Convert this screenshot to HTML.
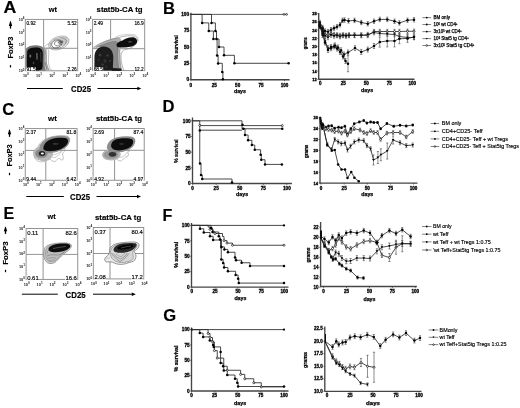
<!DOCTYPE html>
<html><head><meta charset="utf-8"><style>
html,body{margin:0;padding:0;background:#fff;width:520px;height:408px;overflow:hidden}
svg{display:block;will-change:transform}
text{font-family:"Liberation Sans", sans-serif}
</style></head><body>
<svg width="520" height="408" viewBox="0 0 520 408">
<rect width="520" height="408" fill="#fff"/>
<filter id="gb" x="0" y="0" width="100%" height="100%"><feGaussianBlur stdDeviation="0.3"/></filter>
<g filter="url(#gb)">
<g transform="translate(3.6,0) scale(1.07,1) translate(-3.6,0)">
<text x="3.6" y="12.6" font-size="16.6" stroke="#000" stroke-width="0.16" font-weight="bold" >A</text>
</g>
<g transform="translate(163,0) scale(1.0,1) translate(-163,0)">
<text x="163" y="13.8" font-size="16.6" stroke="#000" stroke-width="0.16" font-weight="bold" >B</text>
</g>
<g transform="translate(2.3,0) scale(1.0,1) translate(-2.3,0)">
<text x="2.3" y="115.2" font-size="16.6" stroke="#000" stroke-width="0.16" font-weight="bold" >C</text>
</g>
<g transform="translate(162.6,0) scale(1.0,1) translate(-162.6,0)">
<text x="162.6" y="111.8" font-size="16.6" stroke="#000" stroke-width="0.16" font-weight="bold" >D</text>
</g>
<g transform="translate(3.6,0) scale(0.97,1) translate(-3.6,0)">
<text x="3.6" y="218.6" font-size="16.6" stroke="#000" stroke-width="0.16" font-weight="bold" >E</text>
</g>
<g transform="translate(162.6,0) scale(0.97,1) translate(-162.6,0)">
<text x="162.6" y="220.6" font-size="16.6" stroke="#000" stroke-width="0.16" font-weight="bold" >F</text>
</g>
<g transform="translate(163.2,0) scale(1.0,1) translate(-163.2,0)">
<text x="163.2" y="320.8" font-size="16.6" stroke="#000" stroke-width="0.16" font-weight="bold" >G</text>
</g>
<defs><filter id="bl" x="-20%" y="-20%" width="140%" height="140%"><feGaussianBlur stdDeviation="0.7"/></filter><filter id="bl2" x="-20%" y="-20%" width="140%" height="140%"><feGaussianBlur stdDeviation="0.4"/></filter></defs>
<rect x="25.3" y="19.4" width="52.400000000000006" height="51.4" fill="none" stroke="#888" stroke-width="0.9"/>
<line x1="43.6" y1="19.4" x2="43.6" y2="70.8" stroke="#888" stroke-width="0.9" />
<line x1="25.3" y1="48.3" x2="77.7" y2="48.3" stroke="#888" stroke-width="0.9" />
<text x="24.5" y="72.1" font-size="3.7" font-weight="bold" fill="#222" text-anchor="end">10<tspan font-size="2.96" dy="-1.5">0</tspan></text>
<text x="25.900000000000002" y="76.8" font-size="3.7" font-weight="bold" fill="#222" text-anchor="middle">10<tspan font-size="2.96" dy="-1.5">0</tspan></text>
<text x="24.5" y="59.24999999999999" font-size="3.7" font-weight="bold" fill="#222" text-anchor="end">10<tspan font-size="2.96" dy="-1.5">1</tspan></text>
<text x="39.00000000000001" y="76.8" font-size="3.7" font-weight="bold" fill="#222" text-anchor="middle">10<tspan font-size="2.96" dy="-1.5">1</tspan></text>
<text x="24.5" y="46.39999999999999" font-size="3.7" font-weight="bold" fill="#222" text-anchor="end">10<tspan font-size="2.96" dy="-1.5">2</tspan></text>
<text x="52.1" y="76.8" font-size="3.7" font-weight="bold" fill="#222" text-anchor="middle">10<tspan font-size="2.96" dy="-1.5">2</tspan></text>
<text x="24.5" y="33.55" font-size="3.7" font-weight="bold" fill="#222" text-anchor="end">10<tspan font-size="2.96" dy="-1.5">3</tspan></text>
<text x="65.2" y="76.8" font-size="3.7" font-weight="bold" fill="#222" text-anchor="middle">10<tspan font-size="2.96" dy="-1.5">3</tspan></text>
<text x="24.5" y="20.7" font-size="3.7" font-weight="bold" fill="#222" text-anchor="end">10<tspan font-size="2.96" dy="-1.5">4</tspan></text>
<text x="78.3" y="76.8" font-size="3.7" font-weight="bold" fill="#222" text-anchor="middle">10<tspan font-size="2.96" dy="-1.5">4</tspan></text>
<rect x="92.6" y="19.4" width="52.099999999999994" height="51.199999999999996" fill="none" stroke="#888" stroke-width="0.9"/>
<line x1="110.6" y1="19.4" x2="110.6" y2="70.6" stroke="#888" stroke-width="0.9" />
<line x1="92.6" y1="48.7" x2="144.7" y2="48.7" stroke="#888" stroke-width="0.9" />
<text x="91.5" y="71.89999999999999" font-size="3.7" font-weight="bold" fill="#222" text-anchor="end">10<tspan font-size="2.96" dy="-1.5">0</tspan></text>
<text x="93.19999999999999" y="76.8" font-size="3.7" font-weight="bold" fill="#222" text-anchor="middle">10<tspan font-size="2.96" dy="-1.5">0</tspan></text>
<text x="91.5" y="59.099999999999994" font-size="3.7" font-weight="bold" fill="#222" text-anchor="end">10<tspan font-size="2.96" dy="-1.5">1</tspan></text>
<text x="106.225" y="76.8" font-size="3.7" font-weight="bold" fill="#222" text-anchor="middle">10<tspan font-size="2.96" dy="-1.5">1</tspan></text>
<text x="91.5" y="46.3" font-size="3.7" font-weight="bold" fill="#222" text-anchor="end">10<tspan font-size="2.96" dy="-1.5">2</tspan></text>
<text x="119.24999999999999" y="76.8" font-size="3.7" font-weight="bold" fill="#222" text-anchor="middle">10<tspan font-size="2.96" dy="-1.5">2</tspan></text>
<text x="91.5" y="33.49999999999999" font-size="3.7" font-weight="bold" fill="#222" text-anchor="end">10<tspan font-size="2.96" dy="-1.5">3</tspan></text>
<text x="132.27499999999998" y="76.8" font-size="3.7" font-weight="bold" fill="#222" text-anchor="middle">10<tspan font-size="2.96" dy="-1.5">3</tspan></text>
<text x="91.5" y="20.7" font-size="3.7" font-weight="bold" fill="#222" text-anchor="end">10<tspan font-size="2.96" dy="-1.5">4</tspan></text>
<text x="145.29999999999998" y="76.8" font-size="3.7" font-weight="bold" fill="#222" text-anchor="middle">10<tspan font-size="2.96" dy="-1.5">4</tspan></text>
<rect x="25.25" y="128.6" width="51.849999999999994" height="51.650000000000006" fill="none" stroke="#888" stroke-width="0.9"/>
<line x1="45.8" y1="128.6" x2="45.8" y2="180.25" stroke="#888" stroke-width="0.9" />
<line x1="25.25" y1="150.4" x2="77.1" y2="150.4" stroke="#888" stroke-width="0.9" />
<text x="24.3" y="181.55" font-size="3.7" font-weight="bold" fill="#222" text-anchor="end">10<tspan font-size="2.96" dy="-1.5">0</tspan></text>
<text x="25.85" y="185.5" font-size="3.7" font-weight="bold" fill="#222" text-anchor="middle">10<tspan font-size="2.96" dy="-1.5">0</tspan></text>
<text x="24.3" y="168.63750000000002" font-size="3.7" font-weight="bold" fill="#222" text-anchor="end">10<tspan font-size="2.96" dy="-1.5">1</tspan></text>
<text x="38.8125" y="185.5" font-size="3.7" font-weight="bold" fill="#222" text-anchor="middle">10<tspan font-size="2.96" dy="-1.5">1</tspan></text>
<text x="24.3" y="155.72500000000002" font-size="3.7" font-weight="bold" fill="#222" text-anchor="end">10<tspan font-size="2.96" dy="-1.5">2</tspan></text>
<text x="51.775" y="185.5" font-size="3.7" font-weight="bold" fill="#222" text-anchor="middle">10<tspan font-size="2.96" dy="-1.5">2</tspan></text>
<text x="24.3" y="142.8125" font-size="3.7" font-weight="bold" fill="#222" text-anchor="end">10<tspan font-size="2.96" dy="-1.5">3</tspan></text>
<text x="64.73749999999998" y="185.5" font-size="3.7" font-weight="bold" fill="#222" text-anchor="middle">10<tspan font-size="2.96" dy="-1.5">3</tspan></text>
<text x="24.3" y="129.9" font-size="3.7" font-weight="bold" fill="#222" text-anchor="end">10<tspan font-size="2.96" dy="-1.5">4</tspan></text>
<text x="77.69999999999999" y="185.5" font-size="3.7" font-weight="bold" fill="#222" text-anchor="middle">10<tspan font-size="2.96" dy="-1.5">4</tspan></text>
<rect x="93.1" y="128.5" width="51.099999999999994" height="51.75" fill="none" stroke="#888" stroke-width="0.9"/>
<line x1="114.6" y1="128.5" x2="114.6" y2="180.25" stroke="#888" stroke-width="0.9" />
<line x1="93.1" y1="150.3" x2="144.2" y2="150.3" stroke="#888" stroke-width="0.9" />
<text x="92.0" y="181.55" font-size="3.7" font-weight="bold" fill="#222" text-anchor="end">10<tspan font-size="2.96" dy="-1.5">0</tspan></text>
<text x="93.69999999999999" y="185.5" font-size="3.7" font-weight="bold" fill="#222" text-anchor="middle">10<tspan font-size="2.96" dy="-1.5">0</tspan></text>
<text x="92.0" y="168.6125" font-size="3.7" font-weight="bold" fill="#222" text-anchor="end">10<tspan font-size="2.96" dy="-1.5">1</tspan></text>
<text x="106.475" y="185.5" font-size="3.7" font-weight="bold" fill="#222" text-anchor="middle">10<tspan font-size="2.96" dy="-1.5">1</tspan></text>
<text x="92.0" y="155.675" font-size="3.7" font-weight="bold" fill="#222" text-anchor="end">10<tspan font-size="2.96" dy="-1.5">2</tspan></text>
<text x="119.24999999999999" y="185.5" font-size="3.7" font-weight="bold" fill="#222" text-anchor="middle">10<tspan font-size="2.96" dy="-1.5">2</tspan></text>
<text x="92.0" y="142.7375" font-size="3.7" font-weight="bold" fill="#222" text-anchor="end">10<tspan font-size="2.96" dy="-1.5">3</tspan></text>
<text x="132.02499999999998" y="185.5" font-size="3.7" font-weight="bold" fill="#222" text-anchor="middle">10<tspan font-size="2.96" dy="-1.5">3</tspan></text>
<text x="92.0" y="129.8" font-size="3.7" font-weight="bold" fill="#222" text-anchor="end">10<tspan font-size="2.96" dy="-1.5">4</tspan></text>
<text x="144.79999999999998" y="185.5" font-size="3.7" font-weight="bold" fill="#222" text-anchor="middle">10<tspan font-size="2.96" dy="-1.5">4</tspan></text>
<rect x="26.1" y="228.5" width="51.65" height="50.89999999999998" fill="none" stroke="#888" stroke-width="0.9"/>
<line x1="43.1" y1="228.5" x2="43.1" y2="279.4" stroke="#888" stroke-width="0.9" />
<line x1="26.1" y1="254.4" x2="77.75" y2="254.4" stroke="#888" stroke-width="0.9" />
<text x="25.0" y="280.7" font-size="3.9" font-weight="bold" fill="#222" text-anchor="end">10<tspan font-size="3.12" dy="-1.5">0</tspan></text>
<text x="26.700000000000003" y="285.8" font-size="3.9" font-weight="bold" fill="#222" text-anchor="middle">10<tspan font-size="3.12" dy="-1.5">0</tspan></text>
<text x="25.0" y="267.97499999999997" font-size="3.9" font-weight="bold" fill="#222" text-anchor="end">10<tspan font-size="3.12" dy="-1.5">1</tspan></text>
<text x="39.612500000000004" y="285.8" font-size="3.9" font-weight="bold" fill="#222" text-anchor="middle">10<tspan font-size="3.12" dy="-1.5">1</tspan></text>
<text x="25.0" y="255.25" font-size="3.9" font-weight="bold" fill="#222" text-anchor="end">10<tspan font-size="3.12" dy="-1.5">2</tspan></text>
<text x="52.525" y="285.8" font-size="3.9" font-weight="bold" fill="#222" text-anchor="middle">10<tspan font-size="3.12" dy="-1.5">2</tspan></text>
<text x="25.0" y="242.525" font-size="3.9" font-weight="bold" fill="#222" text-anchor="end">10<tspan font-size="3.12" dy="-1.5">3</tspan></text>
<text x="65.4375" y="285.8" font-size="3.9" font-weight="bold" fill="#222" text-anchor="middle">10<tspan font-size="3.12" dy="-1.5">3</tspan></text>
<text x="25.0" y="229.8" font-size="3.9" font-weight="bold" fill="#222" text-anchor="end">10<tspan font-size="3.12" dy="-1.5">4</tspan></text>
<text x="78.35" y="285.8" font-size="3.9" font-weight="bold" fill="#222" text-anchor="middle">10<tspan font-size="3.12" dy="-1.5">4</tspan></text>
<rect x="93.3" y="227.5" width="50.45" height="51.39999999999998" fill="none" stroke="#888" stroke-width="0.9"/>
<line x1="110" y1="227.5" x2="110" y2="278.9" stroke="#888" stroke-width="0.9" />
<line x1="93.3" y1="253.5" x2="143.75" y2="253.5" stroke="#888" stroke-width="0.9" />
<text x="92.2" y="280.2" font-size="3.9" font-weight="bold" fill="#222" text-anchor="end">10<tspan font-size="3.12" dy="-1.5">0</tspan></text>
<text x="93.89999999999999" y="285.3" font-size="3.9" font-weight="bold" fill="#222" text-anchor="middle">10<tspan font-size="3.12" dy="-1.5">0</tspan></text>
<text x="92.2" y="267.34999999999997" font-size="3.9" font-weight="bold" fill="#222" text-anchor="end">10<tspan font-size="3.12" dy="-1.5">1</tspan></text>
<text x="106.51249999999999" y="285.3" font-size="3.9" font-weight="bold" fill="#222" text-anchor="middle">10<tspan font-size="3.12" dy="-1.5">1</tspan></text>
<text x="92.2" y="254.5" font-size="3.9" font-weight="bold" fill="#222" text-anchor="end">10<tspan font-size="3.12" dy="-1.5">2</tspan></text>
<text x="119.125" y="285.3" font-size="3.9" font-weight="bold" fill="#222" text-anchor="middle">10<tspan font-size="3.12" dy="-1.5">2</tspan></text>
<text x="92.2" y="241.65" font-size="3.9" font-weight="bold" fill="#222" text-anchor="end">10<tspan font-size="3.12" dy="-1.5">3</tspan></text>
<text x="131.73749999999998" y="285.3" font-size="3.9" font-weight="bold" fill="#222" text-anchor="middle">10<tspan font-size="3.12" dy="-1.5">3</tspan></text>
<text x="92.2" y="228.8" font-size="3.9" font-weight="bold" fill="#222" text-anchor="end">10<tspan font-size="3.12" dy="-1.5">4</tspan></text>
<text x="144.35" y="285.3" font-size="3.9" font-weight="bold" fill="#222" text-anchor="middle">10<tspan font-size="3.12" dy="-1.5">4</tspan></text>
<path d="M41,47 C44,46.5 46.5,47.5 47,50 C47.5,54 46.5,59 47,63 C47.5,66.5 49,69 50.5,70.6 L41,70.6 Z" fill="#c8c8c8" filter="url(#bl2)"/>
<path d="M43.8,47.5 C45.5,49 46,53 46,58 C46,63 47,67 49,70.6" stroke="#666" stroke-width="0.55" fill="none" />
<path d="M44.5,48.2 C47.5,47.8 48.8,49 48.8,52 C48.8,55 47.8,60 48.8,65 C49.3,68 50.8,70 52.5,70.6" stroke="#888" stroke-width="0.5" fill="none" />
<path d="M45,62 L47,70.5" stroke="#555" stroke-width="0.6" fill="none" />
<g filter="url(#bl)">
<path d="M26,49 C28,45.8 33,45 38,45.4 C42,45.8 44.5,47.5 44.6,52 L44.6,64 C44.6,68 45.2,70 46,70.7 L25.6,70.7 Z" fill="#777"/>
<path d="M27.3,51 C28.6,47.8 33,47.2 37.5,47.6 C41,48 42.8,50 42.8,54 L42.6,66 C42.6,69 41.5,70.3 38,70.4 L27.4,70.4 C26.8,67 26.8,58 27.3,51 Z" fill="#0c0c0c"/>
</g>
<path d="M36.9,53 L37.1,59.5" stroke="#888" stroke-width="1.0" filter="url(#bl2)"/>
<path d="M40.5,52 L41,62" stroke="#333" stroke-width="1.2" filter="url(#bl2)"/>
<ellipse cx="30.3" cy="56" rx="0.9" ry="1.6" fill="#777" filter="url(#bl2)"/>
<ellipse cx="33.5" cy="63" rx="0.8" ry="1.2" fill="#444" filter="url(#bl2)"/>
<ellipse cx="63" cy="41.3" rx="5.5" ry="4.2" transform="rotate(-20 63 41.3)" fill="#c8c8c8" filter="url(#bl)"/>
<ellipse cx="58.8" cy="43.0" rx="10.6" ry="6.3" transform="rotate(-20 58.8 43.0)" fill="none" stroke="#888" stroke-width="0.6"/>
<ellipse cx="58.2" cy="43.2" rx="8.4" ry="5.0" transform="rotate(-20 58.2 43.2)" fill="none" stroke="#777" stroke-width="0.6"/>
<ellipse cx="56.8" cy="43.8" rx="5.4" ry="3.9" transform="rotate(-20 56.8 43.8)" fill="none" stroke="#555" stroke-width="0.7"/>
<ellipse cx="57.8" cy="43.2" rx="3.4" ry="2.6" transform="rotate(-20 57.8 43.2)" fill="none" stroke="#555" stroke-width="0.6"/>
<ellipse cx="59.6" cy="42.4" rx="0.9" ry="0.9" transform="rotate(0 59.6 42.4)" fill="none" stroke="#333" stroke-width="0.6"/>
<ellipse cx="62.0" cy="41.7" rx="0.9" ry="0.9" transform="rotate(0 62.0 41.7)" fill="none" stroke="#333" stroke-width="0.6"/>
<path d="M44,48 C45,45 47.5,43.5 50,44" stroke="#999" stroke-width="0.5" fill="none" />
<path d="M45,49 C47,47.5 49.5,46.8 51,47.5" stroke="#999" stroke-width="0.45" fill="none" />
<path d="M93.5,47.8 C99,43.5 106,40.5 113,38.3 C118,36.8 121,37.5 121.5,41 C121.8,44.5 120.5,48.5 120.2,52 C120,58 120.8,65 122,70.6 L109,70.6 L109,50 C106,46.5 101,46.5 93.5,47.8 Z" fill="#b0b0b0" filter="url(#bl2)"/>
<path d="M96,47.5 C101,44.8 107,42.8 112.5,41.5 C116,40.8 118.5,41.5 118.6,44 C118.7,47 118.2,50 118,54 C117.9,60 118.5,66 119.5,70.6 L109.5,70.6 L109.5,50 C107,47 102,46.5 96,47.5 Z" fill="#8a8a8a" filter="url(#bl2)"/>
<path d="M93.2,47.5 C99,43.5 105,41 111,39.5 C115,38.5 117,38 119,37.5 C124,35.8 131,35.3 134.5,36.2 C137.5,37.3 138,40 136.5,43 C135,46 131,48.3 126,49.3 C122,50.3 120.8,53.5 121,58 C121.3,63 122.5,67.5 124,70.6" stroke="#777" stroke-width="0.55" fill="none" />
<path d="M95,48.5 C100,45.5 106,43.5 111,42 C114.5,41 117,41.5 117.5,43.5 C118,46 117.5,49 117.2,53 C117,59 117.8,65 119,70.6" stroke="#777" stroke-width="0.5" fill="none" />
<path d="M113,43.6 C115.5,43 116.6,44 116.2,46.5 M118.2,50.5 C119.5,50 120,52 119.8,56 C119.7,61 120.5,66 121.8,70.6" stroke="#888" stroke-width="0.5" fill="none" />
<path d="M115.5,36.8 C122,34.2 130,33.8 134.5,34.8 C137.5,35.8 139,38.5 138,41.5" stroke="#999" stroke-width="0.45" fill="none" />
<g filter="url(#bl)">
<path d="M94.5,56 C95,50 98.5,46.6 103.5,46.4 C109,46.3 112.8,50 113.2,56 C113.6,61 112.5,65 113,68 L121,68.5 L122,70.6 L94.3,70.6 Z" fill="#1a1a1a"/>
<path d="M116.5,44.5 C117,42.5 119.5,41.5 122.5,40.5 C125,38.5 129,37 133,37.2 C136.5,37.6 137.8,40 136.8,42.8 C135.5,45.5 131.5,47 127,47.2 C123.5,47.4 120.5,47.6 118.5,47.3 C117,47 116.3,46 116.5,44.5 Z" fill="#111"/>
</g>
<circle cx="100" cy="55" r="1.5" fill="#3a3a3a" filter="url(#bl2)"/>
<circle cx="105" cy="61" r="1.7" fill="#333" filter="url(#bl2)"/>
<circle cx="102.5" cy="64.5" r="1.3" fill="#3a3a3a" filter="url(#bl2)"/>
<circle cx="107.5" cy="55.5" r="1.3" fill="#3a3a3a" filter="url(#bl2)"/>
<circle cx="98.5" cy="60" r="1.0" fill="#333" filter="url(#bl2)"/>
<circle cx="106" cy="67" r="1.0" fill="#333" filter="url(#bl2)"/>
<circle cx="110" cy="61" r="1.1" fill="#3a3a3a" filter="url(#bl2)"/>
<ellipse cx="130" cy="41.8" rx="2.2" ry="0.9" fill="#444" filter="url(#bl2)"/>
<path d="M93.4,53 L93.4,70.5" stroke="#555" stroke-width="1.6" filter="url(#bl2)"/>
<path d="M112,70.3 L121,70.3" stroke="#222" stroke-width="1.3"/>
<path d="M38.5,146 C40,142.5 43,140 47,138.3 C52,136 60,135.3 66,135.8 C70,136.6 70.5,139.5 69,142.5 C67.5,145.5 65,148 63.5,149.5" stroke="#888" stroke-width="0.5" fill="none" />
<path d="M36.8,149 C37.5,146 40,144 43,143.5" stroke="#888" stroke-width="0.5" fill="none" />
<path d="M33.5,153 C33.5,149 37,148 41,148 C45,148 48,150 48,153.5 C48,157.5 44,159.5 40,159.5 C36,159.5 33.5,157 33.5,153 Z" stroke="#777" stroke-width="0.5" fill="none" />
<path d="M34.2,155 C34.5,160 38,162 42,161.8 C45,161.5 47,160 48.5,158.3" stroke="#888" stroke-width="0.5" fill="none" />
<path d="M48.5,158.5 C50.5,159.5 52,161 54,161.5 C56,162 57,159 58.5,158.5 C60,158 61,160.5 62.5,160 C64,159 63,156 62.5,155 C62,153 64.5,152 65,150 C65.5,148.5 64,147.5 63,148.5" stroke="#888" stroke-width="0.5" fill="none" />
<path d="M50,156 C52,157.5 54.5,158 56,157 C57.5,156 59,154.5 60.5,153 C62,151.5 62.5,150 61.5,149.5" stroke="#999" stroke-width="0.5" fill="none" />
<path d="M47,153 C49,155 52,155.5 55,154.5 C58,153.5 60,152 61.5,151" stroke="#999" stroke-width="0.5" fill="none" />
<g filter="url(#bl)">
<path d="M34,153 C34,148.5 38,146 44,145 C48,144.5 52,147 53,150 C54,154 52,158 49,160 C46,161.5 43,161.5 40,160.5 C36,159.3 34,156.5 34,153 Z" fill="#b8b8b8"/>
<ellipse cx="41.5" cy="153.5" rx="6.2" ry="4.6" fill="#8a8a8a"/>
<path d="M39.5,148.5 C39.5,143.5 43.5,140 49,137.8 C55.5,135.6 63,135.4 67.5,136.6 C70.6,138 70.2,141.8 68,145 C65,148.8 59.5,151.6 53.5,152.6 C47.5,153.4 40.5,153 39.5,148.5 Z" fill="#8c8c8c"/>
<path d="M43.4,149 C43,145 46,141.2 51,139.3 C56,137.6 63,137.4 66.5,138.4 C68.8,139.5 68.4,142.4 66.5,145 C64,148 59,150.4 53,151.1 C48,151.5 44,151 43.4,149 Z" fill="#0e0e0e"/>
<ellipse cx="42" cy="153.6" rx="3.3" ry="2.5" fill="#222"/>
</g>
<ellipse cx="42.4" cy="153.5" rx="1.5" ry="0.9" fill="#f4f4f4" filter="url(#bl2)"/>
<ellipse cx="55.5" cy="143.8" rx="3" ry="0.9" fill="#3a3a3a" filter="url(#bl2)"/>
<path d="M107,148 C107.5,143.5 110,140.5 114,138.8 C119,137 126,136.3 131,136.8 C135,137.6 135.5,140.5 134,143.5 C132.5,146.5 130,149 128,151" stroke="#888" stroke-width="0.5" fill="none" />
<path d="M102.5,155 C102.5,151.5 106,150.3 110.5,150.3 C115,150.3 119,151.5 119.3,154.5 C119.5,157.5 115,159.3 110.5,159.3 C106,159.3 102.5,158 102.5,155 Z" stroke="#777" stroke-width="0.5" fill="none" />
<path d="M104.5,154.8 C104.7,152.6 107.5,152 110.7,152 C114,152 117,152.8 117,154.6 C117,156.5 114,157.4 110.7,157.4 C107.5,157.4 104.5,156.8 104.5,154.8 Z" stroke="#888" stroke-width="0.5" fill="none" />
<path d="M117,159.5 C119,161 121,161.5 122.5,160 C124,158.5 125,157 127,156.5 C129,156 128.5,154 128,153 C127.5,152 129,151 130,151" stroke="#888" stroke-width="0.5" fill="none" />
<path d="M119,157 C121,157.8 123,157 124.5,155.5 C126,154 127,152.5 127.5,151.5" stroke="#999" stroke-width="0.5" fill="none" />
<g filter="url(#bl)">
<path d="M102.5,155 C102.5,151.5 106,150 111,150 C115,150 119,151 120.5,153 C121.5,155.5 119.5,158.5 116,159.8 C112,161 107,160.5 105,159.3 C103.3,158.3 102.5,157 102.5,155 Z" fill="#b8b8b8"/>
<ellipse cx="111" cy="154.8" rx="7.5" ry="4.0" fill="#999"/>
<path d="M107,147.5 C107.5,142 111,139 116.5,137.4 C122,136.2 129.5,136.2 133,137.3 C136.3,139 135.6,143 133.2,146.2 C130,149.8 124,152.2 118,152.5 C112,152.7 107.2,151.5 107,147.5 Z" fill="#8c8c8c"/>
<ellipse cx="112.5" cy="154.3" rx="3.8" ry="2.4" fill="#333"/>
<path d="M111,145.5 C111.5,141.5 114,139.5 119,138.7 C124,138 130,138.2 132.5,139.5 C134,141.5 133,144.5 131,146.5 C128.5,148.8 124,150.2 119,150.4 C114.5,150.5 111.2,149 111,145.5 Z" fill="#0e0e0e"/>
</g>
<ellipse cx="121.5" cy="144" rx="2.6" ry="0.8" fill="#3a3a3a" filter="url(#bl2)"/>
<path d="M46,246.5 C49,244.2 55,243.2 61,243 C66,242.8 70,243 71.2,244.8 C72,247 70,249.5 67,251.5 C63,254 59.5,258 56,261.5 C53,264 49,264.3 46.5,262 C44,259.5 43.5,256 43.8,252 C44,249.5 44.8,247.5 46,246.5 Z" fill="#d4d4d4" stroke="#666" stroke-width="0.6"/>
<path d="M45.5,252 C45.8,249 47.5,246.5 51,245.3 C56,244 63,243.8 68,244.2 C70.5,245 70,247.5 67,249.8 C63.5,252.3 60,255.5 57,259 C54.5,261.8 50.5,262.5 48,261 C46,259.5 45.4,256 45.5,252 Z" fill="#bdbdbd" stroke="#777" stroke-width="0.5"/>
<path d="M47,253.5 C47,251 49,249.5 52,249.5 C56,249.5 60,251 64,250.5" stroke="#666" stroke-width="0.5" fill="none" />
<path d="M47,256 C49.5,254.5 53,254.5 57,255 C60,255 62.5,253.5 64.5,252" stroke="#666" stroke-width="0.5" fill="none" />
<path d="M47.5,258.5 C50,257.3 53,257.8 56,258" stroke="#777" stroke-width="0.5" fill="none" />
<path d="M48.5,260.5 C50.5,260 53,260.3 54.5,260" stroke="#888" stroke-width="0.45" fill="none" />
<g filter="url(#bl)">
<path d="M48.5,248.5 C50,245.5 55,244 61.5,243.6 C66.5,243.3 70,243.8 70.4,245.8 C70.6,248 67,250.3 62,251.6 C57,252.6 52,252.5 49.8,251.3 C48.7,250.6 48.3,249.5 48.5,248.5 Z" fill="#111"/>
</g>
<path d="M53,248.5 C57,247.5 62,247 66,246.5" stroke="#777" stroke-width="0.6" fill="none" filter="url(#bl2)"/>
<path d="M109.8,249 C111,246 114,244 118,243.3 C124,242.3 131,241.8 135,242 C138,242.5 139.5,244 139,246 C138.3,248.5 136,250 134,251.5 C136,253.5 136.5,256 135.5,258.5 C135,261 132,262 129,262.5 C126,264 121,265 117,264 C113.5,263 111.5,261.5 109.5,261.8 C107,262.5 104.5,261.5 104.6,259.5 C104.8,257.5 107,256 108.5,255 C109.5,253.5 109.5,251 109.8,249 Z" fill="#ececec" stroke="#555" stroke-width="0.6"/>
<path d="M110.5,251 C111.5,247 114.5,245 119,244.2 C125,243.2 131,243 135,243.5 C137.5,244.2 137.5,246.5 135.5,248.5 C133.5,250.5 132,252.5 133,255 C134,257.5 133,260 130,261 C126,262.5 121,263 117.5,262 C114,261 112,259 111,256.5 C110.5,254.5 110.4,252.5 110.5,251 Z" fill="#d6d6d6" stroke="#666" stroke-width="0.5"/>
<path d="M111.5,253 C114,257 117,260 120,261.5 C123,260 126.5,257 129,253.5" stroke="#666" stroke-width="0.55" fill="none" />
<path d="M113.5,253.5 C115.5,256.5 118.5,258.5 120.5,259 C123,258 125.5,256 127.5,253" stroke="#666" stroke-width="0.55" fill="none" />
<path d="M116,253.5 C117.5,255.5 119.5,256.5 121,256.5 C122.5,256 124,254.5 125,253" stroke="#777" stroke-width="0.5" fill="none" />
<path d="M106,259.5 C107,258 108.5,257.5 110,258" stroke="#888" stroke-width="0.45" fill="none" />
<g filter="url(#bl)">
<path d="M113.5,249.5 C114,246.5 117.5,244.3 123,243.5 C128,242.8 133.5,242.8 136,243.6 C137.5,245 136.3,247.5 133,249.7 C130,251.7 125,252.8 120,252.8 C116,252.8 113.3,251.6 113.5,249.5 Z" fill="#2a2a2a"/>
<path d="M117.5,247.3 C120.5,245.2 126,244.2 131,244.2 C134.3,244.4 134.3,246 131.8,247.5 C128,249.2 122,250 118.8,249.5 C117.2,249.2 116.8,248 117.5,247.3 Z" fill="#050505"/>
</g>
<path d="M121,248 C124,247 128,246.5 131,246" stroke="#888" stroke-width="0.5" fill="none" filter="url(#bl2)"/>
<text x="26.400000000000002" y="24.5" font-size="4.8" stroke="#000" stroke-width="0.15">0.92</text>
<text x="76.8" y="24.5" font-size="4.8" text-anchor="end" stroke="#000" stroke-width="0.15">5.52</text>
<rect x="25.900000000000002" y="67.2" width="9.9408" height="4.3" fill="#fff"/>
<rect x="67.15920000000001" y="67.2" width="9.9408" height="4.3" fill="#fff"/>
<text x="26.400000000000002" y="71.2" font-size="4.8" stroke="#000" stroke-width="0.15">91.5</text>
<text x="76.8" y="71.2" font-size="4.8" text-anchor="end" stroke="#000" stroke-width="0.15">2.26</text>
<text x="93.69999999999999" y="24.5" font-size="4.8" stroke="#000" stroke-width="0.15">2.49</text>
<text x="143.79999999999998" y="24.5" font-size="4.8" text-anchor="end" stroke="#000" stroke-width="0.15">16.9</text>
<rect x="93.19999999999999" y="67.0" width="9.9408" height="4.3" fill="#fff"/>
<rect x="134.1592" y="67.0" width="9.9408" height="4.3" fill="#fff"/>
<text x="93.69999999999999" y="71.0" font-size="4.8" stroke="#000" stroke-width="0.15">68.5</text>
<text x="143.79999999999998" y="71.0" font-size="4.8" text-anchor="end" stroke="#000" stroke-width="0.15">12.2</text>
<text x="26.35" y="133.9" font-size="5.0" stroke="#000" stroke-width="0.15">2.37</text>
<text x="76.19999999999999" y="133.9" font-size="5.0" text-anchor="end" stroke="#000" stroke-width="0.15">81.8</text>
<rect x="25.85" y="176.5" width="10.33" height="4.45" fill="#fff"/>
<rect x="66.17" y="176.5" width="10.33" height="4.45" fill="#fff"/>
<text x="26.35" y="180.65" font-size="5.0" stroke="#000" stroke-width="0.15">9.44</text>
<text x="76.19999999999999" y="180.65" font-size="5.0" text-anchor="end" stroke="#000" stroke-width="0.15">6.42</text>
<text x="94.19999999999999" y="133.8" font-size="5.0" stroke="#000" stroke-width="0.15">2.69</text>
<text x="143.29999999999998" y="133.8" font-size="5.0" text-anchor="end" stroke="#000" stroke-width="0.15">87.4</text>
<rect x="93.69999999999999" y="176.5" width="10.33" height="4.45" fill="#fff"/>
<rect x="133.26999999999998" y="176.5" width="10.33" height="4.45" fill="#fff"/>
<text x="94.19999999999999" y="180.65" font-size="5.0" stroke="#000" stroke-width="0.15">4.92</text>
<text x="143.29999999999998" y="180.65" font-size="5.0" text-anchor="end" stroke="#000" stroke-width="0.15">4.97</text>
<text x="27.200000000000003" y="234.70000000000002" font-size="5.9" stroke="#000" stroke-width="0.15">0.11</text>
<text x="76.85" y="234.70000000000002" font-size="5.9" text-anchor="end" stroke="#000" stroke-width="0.15">82.6</text>
<rect x="26.700000000000003" y="274.97499999999997" width="12.081400000000002" height="5.125000000000001" fill="#fff"/>
<rect x="65.0686" y="274.97499999999997" width="12.081400000000002" height="5.125000000000001" fill="#fff"/>
<text x="27.200000000000003" y="279.79999999999995" font-size="5.9" stroke="#000" stroke-width="0.15">0.61</text>
<text x="76.85" y="279.79999999999995" font-size="5.9" text-anchor="end" stroke="#000" stroke-width="0.15">16.6</text>
<text x="94.39999999999999" y="233.70000000000002" font-size="5.9" stroke="#000" stroke-width="0.15">0.37</text>
<text x="142.85" y="233.70000000000002" font-size="5.9" text-anchor="end" stroke="#000" stroke-width="0.15">80.4</text>
<rect x="93.89999999999999" y="274.47499999999997" width="12.081400000000002" height="5.125000000000001" fill="#fff"/>
<rect x="131.0686" y="274.47499999999997" width="12.081400000000002" height="5.125000000000001" fill="#fff"/>
<text x="94.39999999999999" y="279.29999999999995" font-size="5.9" stroke="#000" stroke-width="0.15">2.08</text>
<text x="142.85" y="279.29999999999995" font-size="5.9" text-anchor="end" stroke="#000" stroke-width="0.15">17.2</text>
<text x="48.7" y="12.3" font-size="7.7" stroke="#000" stroke-width="0.16" font-weight="bold" textLength="8.2" lengthAdjust="spacingAndGlyphs" >wt</text>
<text x="96.6" y="12.3" font-size="7.7" stroke="#000" stroke-width="0.16" font-weight="bold" textLength="46" lengthAdjust="spacingAndGlyphs" >stat5b-CA tg</text>
<text x="48.1" y="120.8" font-size="7.7" stroke="#000" stroke-width="0.16" font-weight="bold" textLength="8.8" lengthAdjust="spacingAndGlyphs" >wt</text>
<text x="96.0" y="121.2" font-size="7.7" stroke="#000" stroke-width="0.16" font-weight="bold" textLength="46" lengthAdjust="spacingAndGlyphs" >stat5b-CA tg</text>
<text x="47.5" y="219.3" font-size="7.7" stroke="#000" stroke-width="0.16" font-weight="bold" textLength="8.1" lengthAdjust="spacingAndGlyphs" >wt</text>
<text x="95.0" y="220.4" font-size="7.7" stroke="#000" stroke-width="0.16" font-weight="bold" textLength="46.2" lengthAdjust="spacingAndGlyphs" >stat5b-CA tg</text>
<path d="M8.8,26.0 L10.15,21.3 L10.5,21.0 L10.85,21.3 L12.2,26.0 Z" fill="#000"/>
<line x1="10.5" y1="25.5" x2="10.5" y2="28.6" stroke="#000" stroke-width="1.3" />
<text x="13.1" y="47.55" font-size="7.3" stroke="#000" stroke-width="0.16" font-weight="bold" text-anchor="middle" textLength="22" lengthAdjust="spacingAndGlyphs" transform="rotate(-90 13.1 47.55)" >FoxP3</text>
<line x1="10.5" y1="65.1" x2="10.5" y2="67.5" stroke="#000" stroke-width="1.2" />
<path d="M7.8,134.3 L9.15,129.8 L9.5,129.5 L9.85,129.8 L11.2,134.3 Z" fill="#000"/>
<line x1="9.5" y1="133.8" x2="9.5" y2="136.8" stroke="#000" stroke-width="1.3" />
<text x="12.1" y="155.4" font-size="7.3" stroke="#000" stroke-width="0.16" font-weight="bold" text-anchor="middle" textLength="22" lengthAdjust="spacingAndGlyphs" transform="rotate(-90 12.1 155.4)" >FoxP3</text>
<line x1="9.5" y1="172.8" x2="9.5" y2="175.20000000000002" stroke="#000" stroke-width="1.2" />
<path d="M3.8,231.3 L5.15,226.9 L5.5,226.6 L5.85,226.9 L7.2,231.3 Z" fill="#000"/>
<line x1="5.5" y1="230.8" x2="5.5" y2="233.9" stroke="#000" stroke-width="1.3" />
<text x="8.4" y="253.1" font-size="8.0" stroke="#000" stroke-width="0.16" font-weight="bold" text-anchor="middle" textLength="23.5" lengthAdjust="spacingAndGlyphs" transform="rotate(-90 8.4 253.1)" >FoxP3</text>
<line x1="5.5" y1="269.8" x2="5.5" y2="272.2" stroke="#000" stroke-width="1.2" />
<line x1="27" y1="88.5" x2="62.8" y2="88.5" stroke="#000" stroke-width="1.0" />
<text x="71.0" y="92.4" font-size="8.4" stroke="#000" stroke-width="0.16" font-weight="bold" textLength="20" lengthAdjust="spacingAndGlyphs" >CD25</text>
<line x1="97.5" y1="88.5" x2="138.3" y2="88.5" stroke="#000" stroke-width="1.0" />
<path d="M137.3,86.7 L141.3,88.5 L137.3,90.3 Z" fill="#000"/>
<line x1="26.3" y1="196.5" x2="63.8" y2="196.5" stroke="#000" stroke-width="1.0" />
<text x="70.0" y="200.4" font-size="8.4" stroke="#000" stroke-width="0.16" font-weight="bold" textLength="20" lengthAdjust="spacingAndGlyphs" >CD25</text>
<line x1="96.5" y1="196.5" x2="138" y2="196.5" stroke="#000" stroke-width="1.0" />
<path d="M137,194.7 L141,196.5 L137,198.3 Z" fill="#000"/>
<line x1="21.9" y1="294.2" x2="57.8" y2="294.2" stroke="#000" stroke-width="1.0" />
<text x="65.6" y="298.09999999999997" font-size="8.4" stroke="#000" stroke-width="0.16" font-weight="bold" textLength="20" lengthAdjust="spacingAndGlyphs" >CD25</text>
<line x1="93" y1="294.2" x2="132.8" y2="294.2" stroke="#000" stroke-width="1.0" />
<path d="M131.8,292.4 L135.8,294.2 L131.8,296.0 Z" fill="#000"/>
<line x1="190.9" y1="12.8" x2="190.9" y2="80.0" stroke="#444" stroke-width="1.35" />
<line x1="190.70000000000002" y1="79.7" x2="289.6" y2="79.7" stroke="#444" stroke-width="1.35" />
<line x1="189.4" y1="79.7" x2="190.9" y2="79.7" stroke="#333" stroke-width="0.6" />
<text x="189.1" y="81.4" font-size="4.7" stroke="#000" stroke-width="0.3" font-weight="bold" text-anchor="end" >0</text>
<line x1="189.4" y1="63.375" x2="190.9" y2="63.375" stroke="#333" stroke-width="0.6" />
<text x="189.1" y="65.075" font-size="4.7" stroke="#000" stroke-width="0.3" font-weight="bold" text-anchor="end" >25</text>
<line x1="189.4" y1="47.050000000000004" x2="190.9" y2="47.050000000000004" stroke="#333" stroke-width="0.6" />
<text x="189.1" y="48.75000000000001" font-size="4.7" stroke="#000" stroke-width="0.3" font-weight="bold" text-anchor="end" >50</text>
<line x1="189.4" y1="30.725" x2="190.9" y2="30.725" stroke="#333" stroke-width="0.6" />
<text x="189.1" y="32.425000000000004" font-size="4.7" stroke="#000" stroke-width="0.3" font-weight="bold" text-anchor="end" >75</text>
<line x1="189.4" y1="14.400000000000006" x2="190.9" y2="14.400000000000006" stroke="#333" stroke-width="0.6" />
<text x="189.1" y="16.100000000000005" font-size="4.7" stroke="#000" stroke-width="0.3" font-weight="bold" text-anchor="end" >100</text>
<line x1="190.8" y1="79.7" x2="190.8" y2="81.2" stroke="#333" stroke-width="0.6" />
<text x="190.8" y="86.8" font-size="4.6" stroke="#000" stroke-width="0.3" font-weight="bold" text-anchor="middle" >0</text>
<line x1="214.22500000000002" y1="79.7" x2="214.22500000000002" y2="81.2" stroke="#333" stroke-width="0.6" />
<text x="214.22500000000002" y="86.8" font-size="4.6" stroke="#000" stroke-width="0.3" font-weight="bold" text-anchor="middle" >25</text>
<line x1="237.65" y1="79.7" x2="237.65" y2="81.2" stroke="#333" stroke-width="0.6" />
<text x="237.65" y="86.8" font-size="4.6" stroke="#000" stroke-width="0.3" font-weight="bold" text-anchor="middle" >50</text>
<line x1="261.07500000000005" y1="79.7" x2="261.07500000000005" y2="81.2" stroke="#333" stroke-width="0.6" />
<text x="261.07500000000005" y="86.8" font-size="4.6" stroke="#000" stroke-width="0.3" font-weight="bold" text-anchor="middle" >75</text>
<line x1="284.5" y1="79.7" x2="284.5" y2="81.2" stroke="#333" stroke-width="0.6" />
<text x="284.5" y="86.8" font-size="4.6" stroke="#000" stroke-width="0.3" font-weight="bold" text-anchor="middle" >100</text>
<text x="239.9925" y="92.6" font-size="5.4" stroke="#000" stroke-width="0.25" font-weight="bold" text-anchor="middle" textLength="12" lengthAdjust="spacingAndGlyphs" >days</text>
<text x="177.7" y="47.2" font-size="5.0" stroke="#000" stroke-width="0.25" font-weight="bold" text-anchor="middle" textLength="24" lengthAdjust="spacingAndGlyphs" transform="rotate(-90 177.7 47.2)" >% survival</text>
<path d="M190.9,14.4 H287.5" stroke="#333" stroke-width="0.8" fill="none" />
<circle cx="284.0" cy="14.4" r="0.9" fill="#fff" stroke="#000" stroke-width="0.65"/>
<circle cx="286.5" cy="14.4" r="0.9" fill="#fff" stroke="#000" stroke-width="0.65"/>
<path d="M190.9,14.4 H202.1 V22.9 H208.75 V31 H213.4 V39 H217.1 V47 V55.3 H218.1 V63.3 H222.25 V71.8 H222.9 V79.7" stroke="#333" stroke-width="0.9" fill="none" />
<path d="M190.9,14.4 H211.5 V22.9 H215.4 V31 H216.5 V39 H219 V47 H224 V55.3 H234.4 V63.3 H288.6" stroke="#333" stroke-width="0.9" fill="none" />
<circle cx="202.1" cy="22.9" r="1.25" fill="#000"/>
<circle cx="208.75" cy="31" r="1.25" fill="#000"/>
<circle cx="213.4" cy="39" r="1.25" fill="#000"/>
<circle cx="217.1" cy="55.6" r="1.25" fill="#000"/>
<circle cx="218.1" cy="63.5" r="1.25" fill="#000"/>
<circle cx="222.25" cy="71.9" r="1.25" fill="#000"/>
<circle cx="222.9" cy="79.2" r="1.25" fill="#000"/>
<circle cx="211.5" cy="22.9" r="1.25" fill="#000"/>
<circle cx="215.4" cy="31" r="1.25" fill="#000"/>
<circle cx="216.5" cy="39" r="1.25" fill="#000"/>
<circle cx="219" cy="47" r="1.25" fill="#000"/>
<circle cx="224" cy="55.3" r="1.25" fill="#000"/>
<circle cx="234.4" cy="63.3" r="1.25" fill="#000"/>
<circle cx="288.6" cy="63.3" r="1.25" fill="#000"/>
<line x1="192.5" y1="117.5" x2="192.5" y2="183.8" stroke="#444" stroke-width="1.35" />
<line x1="192.3" y1="183.5" x2="291.9" y2="183.5" stroke="#444" stroke-width="1.35" />
<line x1="191.0" y1="183.5" x2="192.5" y2="183.5" stroke="#333" stroke-width="0.6" />
<text x="190.7" y="185.2" font-size="4.7" stroke="#000" stroke-width="0.3" font-weight="bold" text-anchor="end" >0</text>
<line x1="191.0" y1="167.825" x2="192.5" y2="167.825" stroke="#333" stroke-width="0.6" />
<text x="190.7" y="169.52499999999998" font-size="4.7" stroke="#000" stroke-width="0.3" font-weight="bold" text-anchor="end" >25</text>
<line x1="191.0" y1="152.15" x2="192.5" y2="152.15" stroke="#333" stroke-width="0.6" />
<text x="190.7" y="153.85" font-size="4.7" stroke="#000" stroke-width="0.3" font-weight="bold" text-anchor="end" >50</text>
<line x1="191.0" y1="136.475" x2="192.5" y2="136.475" stroke="#333" stroke-width="0.6" />
<text x="190.7" y="138.17499999999998" font-size="4.7" stroke="#000" stroke-width="0.3" font-weight="bold" text-anchor="end" >75</text>
<line x1="191.0" y1="120.8" x2="192.5" y2="120.8" stroke="#333" stroke-width="0.6" />
<text x="190.7" y="122.5" font-size="4.7" stroke="#000" stroke-width="0.3" font-weight="bold" text-anchor="end" >100</text>
<line x1="192.6" y1="183.5" x2="192.6" y2="185.0" stroke="#333" stroke-width="0.6" />
<text x="192.6" y="189.8" font-size="4.6" stroke="#000" stroke-width="0.3" font-weight="bold" text-anchor="middle" >0</text>
<line x1="216.17499999999998" y1="183.5" x2="216.17499999999998" y2="185.0" stroke="#333" stroke-width="0.6" />
<text x="216.17499999999998" y="189.8" font-size="4.6" stroke="#000" stroke-width="0.3" font-weight="bold" text-anchor="middle" >25</text>
<line x1="239.75" y1="183.5" x2="239.75" y2="185.0" stroke="#333" stroke-width="0.6" />
<text x="239.75" y="189.8" font-size="4.6" stroke="#000" stroke-width="0.3" font-weight="bold" text-anchor="middle" >50</text>
<line x1="263.325" y1="183.5" x2="263.325" y2="185.0" stroke="#333" stroke-width="0.6" />
<text x="263.325" y="189.8" font-size="4.6" stroke="#000" stroke-width="0.3" font-weight="bold" text-anchor="middle" >75</text>
<line x1="286.9" y1="183.5" x2="286.9" y2="185.0" stroke="#333" stroke-width="0.6" />
<text x="286.9" y="189.8" font-size="4.6" stroke="#000" stroke-width="0.3" font-weight="bold" text-anchor="middle" >100</text>
<text x="242.1075" y="196.2" font-size="5.4" stroke="#000" stroke-width="0.25" font-weight="bold" text-anchor="middle" textLength="12" lengthAdjust="spacingAndGlyphs" >days</text>
<text x="178.2" y="151.3" font-size="5.4" stroke="#000" stroke-width="0.25" text-anchor="middle" textLength="23.6" lengthAdjust="spacingAndGlyphs" transform="rotate(-90 178.2 151.3)" >% survival</text>
<path d="M192.5,120.8 H242 V128.75 H245 V135 H248.1 V140.25 H251.9 V145 H254.75 V149.75 H260.6 V154.75 H261.25 V159.75 H265 V164.4 H281.9" stroke="#333" stroke-width="0.9" fill="none" />
<path d="M199.75,125.6 H282.25" stroke="#333" stroke-width="0.9" fill="none" />
<path d="M242,128.75 H282.25" stroke="#333" stroke-width="0.9" fill="none" />
<path d="M199.75,130.2 H242" stroke="#333" stroke-width="0.9" fill="none" />
<path d="M192.5,120.8 H199.75 V163.5 H201 V175 H202.25 V179 H232 V183" stroke="#333" stroke-width="0.9" fill="none" />
<circle cx="242.5" cy="124.75" r="1.25" fill="#000"/>
<circle cx="243.3" cy="128.75" r="1.25" fill="#000"/>
<circle cx="245" cy="135" r="1.25" fill="#000"/>
<circle cx="248.1" cy="140.25" r="1.25" fill="#000"/>
<circle cx="251.9" cy="145" r="1.25" fill="#000"/>
<circle cx="254.75" cy="149.75" r="1.25" fill="#000"/>
<circle cx="260.6" cy="154.75" r="1.25" fill="#000"/>
<circle cx="261.25" cy="159.75" r="1.25" fill="#000"/>
<circle cx="265" cy="164.4" r="1.25" fill="#000"/>
<circle cx="281.9" cy="164.4" r="1.25" fill="#000"/>
<circle cx="199.75" cy="130.6" r="1.25" fill="#000"/>
<circle cx="282.25" cy="128.75" r="1.25" fill="#000"/>
<circle cx="200" cy="163.5" r="1.25" fill="#000"/>
<circle cx="201" cy="175" r="1.25" fill="#000"/>
<circle cx="202.25" cy="179" r="1.25" fill="#000"/>
<circle cx="232" cy="182.5" r="1.25" fill="#000"/>
<circle cx="199.75" cy="125.3" r="1.0" fill="#fff" stroke="#000" stroke-width="0.65"/>
<circle cx="282.25" cy="125.6" r="1.0" fill="#fff" stroke="#000" stroke-width="0.65"/>
<line x1="191.5" y1="223.0" x2="191.5" y2="287.40000000000003" stroke="#444" stroke-width="1.35" />
<line x1="191.3" y1="287.1" x2="288.5" y2="287.1" stroke="#444" stroke-width="1.35" />
<line x1="190.0" y1="287.1" x2="191.5" y2="287.1" stroke="#333" stroke-width="0.6" />
<text x="189.7" y="288.8" font-size="4.7" stroke="#000" stroke-width="0.3" font-weight="bold" text-anchor="end" >0</text>
<line x1="190.0" y1="271.675" x2="191.5" y2="271.675" stroke="#333" stroke-width="0.6" />
<text x="189.7" y="273.375" font-size="4.7" stroke="#000" stroke-width="0.3" font-weight="bold" text-anchor="end" >25</text>
<line x1="190.0" y1="256.25" x2="191.5" y2="256.25" stroke="#333" stroke-width="0.6" />
<text x="189.7" y="257.95" font-size="4.7" stroke="#000" stroke-width="0.3" font-weight="bold" text-anchor="end" >50</text>
<line x1="190.0" y1="240.82500000000002" x2="191.5" y2="240.82500000000002" stroke="#333" stroke-width="0.6" />
<text x="189.7" y="242.525" font-size="4.7" stroke="#000" stroke-width="0.3" font-weight="bold" text-anchor="end" >75</text>
<line x1="190.0" y1="225.4" x2="191.5" y2="225.4" stroke="#333" stroke-width="0.6" />
<text x="189.7" y="227.1" font-size="4.7" stroke="#000" stroke-width="0.3" font-weight="bold" text-anchor="end" >100</text>
<line x1="191.9" y1="287.1" x2="191.9" y2="288.6" stroke="#333" stroke-width="0.6" />
<text x="191.9" y="293.3" font-size="4.6" stroke="#000" stroke-width="0.3" font-weight="bold" text-anchor="middle" >0</text>
<line x1="215.0" y1="287.1" x2="215.0" y2="288.6" stroke="#333" stroke-width="0.6" />
<text x="215.0" y="293.3" font-size="4.6" stroke="#000" stroke-width="0.3" font-weight="bold" text-anchor="middle" >25</text>
<line x1="238.10000000000002" y1="287.1" x2="238.10000000000002" y2="288.6" stroke="#333" stroke-width="0.6" />
<text x="238.10000000000002" y="293.3" font-size="4.6" stroke="#000" stroke-width="0.3" font-weight="bold" text-anchor="middle" >50</text>
<line x1="261.2" y1="287.1" x2="261.2" y2="288.6" stroke="#333" stroke-width="0.6" />
<text x="261.2" y="293.3" font-size="4.6" stroke="#000" stroke-width="0.3" font-weight="bold" text-anchor="middle" >75</text>
<line x1="284.3" y1="287.1" x2="284.3" y2="288.6" stroke="#333" stroke-width="0.6" />
<text x="284.3" y="293.3" font-size="4.6" stroke="#000" stroke-width="0.3" font-weight="bold" text-anchor="middle" >100</text>
<text x="240.41000000000003" y="300.3" font-size="5.4" stroke="#000" stroke-width="0.25" font-weight="bold" text-anchor="middle" textLength="12" lengthAdjust="spacingAndGlyphs" >days</text>
<text x="177.9" y="254.8" font-size="5.0" stroke="#000" stroke-width="0.25" font-weight="bold" text-anchor="middle" textLength="26" lengthAdjust="spacingAndGlyphs" transform="rotate(-90 177.9 254.8)" >% survival</text>
<path d="M191.5,225.4 H284" stroke="#333" stroke-width="0.9" fill="none" />
<circle cx="284" cy="225.4" r="1.1" fill="#000"/>
<path d="M191.5,225.4 H208.1 V227 H210 V229.4 H213.1 V231.9 H215 V233.5 H222.5 V236.5 H224 V240.6 H227 V243.1 H232.5 V245.25 H284" stroke="#333" stroke-width="0.9" fill="none" />
<path d="M191.5,225.4 H211 V228 H212.5 V232 H218.75 V236.25 H220 V239.4 H221.5 V246.9 H224.4 V249.4 H227.9 V252.25 H235 V257.5 H236 V260.25 H241.6 V262.75 H250 V265.9 H284" stroke="#333" stroke-width="0.9" fill="none" />
<path d="M191.5,225.4 H200 V228.75 H203.75 V232.5 H210 V236.25 H213.1 V240 H220.5 V248.1 H221.25 V259.4 H223.1 V263.1 H224.1 V267.5 H227.9 V271.25 H235.6 V275 H238.1 V278.75 H238.75 V283.1 H284" stroke="#333" stroke-width="0.9" fill="none" />
<circle cx="210" cy="229.4" r="1.0" fill="#fff" stroke="#000" stroke-width="0.65"/>
<circle cx="213.1" cy="231.9" r="1.0" fill="#fff" stroke="#000" stroke-width="0.65"/>
<circle cx="215" cy="233.5" r="1.0" fill="#fff" stroke="#000" stroke-width="0.65"/>
<circle cx="224" cy="240.6" r="1.0" fill="#fff" stroke="#000" stroke-width="0.65"/>
<circle cx="227" cy="243.1" r="1.0" fill="#fff" stroke="#000" stroke-width="0.65"/>
<circle cx="232.5" cy="245.25" r="1.0" fill="#fff" stroke="#000" stroke-width="0.65"/>
<circle cx="284" cy="245.25" r="1.0" fill="#fff" stroke="#000" stroke-width="0.65"/>
<circle cx="211" cy="228" r="1.25" fill="#000"/>
<circle cx="212.5" cy="232" r="1.25" fill="#000"/>
<circle cx="218.75" cy="236.25" r="1.25" fill="#000"/>
<circle cx="220" cy="239.4" r="1.25" fill="#000"/>
<circle cx="221.5" cy="246.9" r="1.25" fill="#000"/>
<circle cx="224.4" cy="249.4" r="1.25" fill="#000"/>
<circle cx="227.9" cy="252.25" r="1.25" fill="#000"/>
<circle cx="235" cy="257.5" r="1.25" fill="#000"/>
<circle cx="236" cy="260.25" r="1.25" fill="#000"/>
<circle cx="241.6" cy="262.75" r="1.25" fill="#000"/>
<circle cx="250" cy="265.9" r="1.25" fill="#000"/>
<circle cx="284" cy="265.9" r="1.25" fill="#000"/>
<circle cx="200" cy="228.75" r="1.25" fill="#000"/>
<circle cx="203.75" cy="232.5" r="1.25" fill="#000"/>
<circle cx="210" cy="236.25" r="1.25" fill="#000"/>
<circle cx="213.1" cy="240" r="1.25" fill="#000"/>
<circle cx="221.25" cy="259.4" r="1.25" fill="#000"/>
<circle cx="223.1" cy="263.1" r="1.25" fill="#000"/>
<circle cx="224.1" cy="267.5" r="1.25" fill="#000"/>
<circle cx="227.9" cy="271.25" r="1.25" fill="#000"/>
<circle cx="235.6" cy="275" r="1.25" fill="#000"/>
<circle cx="238.1" cy="278.75" r="1.25" fill="#000"/>
<circle cx="238.75" cy="283.1" r="1.25" fill="#000"/>
<circle cx="284" cy="283.1" r="1.25" fill="#000"/>
<line x1="191.5" y1="327.5" x2="191.5" y2="391.3" stroke="#444" stroke-width="1.35" />
<line x1="191.3" y1="391.0" x2="288.5" y2="391.0" stroke="#444" stroke-width="1.35" />
<line x1="190.0" y1="391.0" x2="191.5" y2="391.0" stroke="#333" stroke-width="0.6" />
<text x="189.7" y="392.7" font-size="4.7" stroke="#000" stroke-width="0.3" font-weight="bold" text-anchor="end" >0</text>
<line x1="190.0" y1="375.65" x2="191.5" y2="375.65" stroke="#333" stroke-width="0.6" />
<text x="189.7" y="377.34999999999997" font-size="4.7" stroke="#000" stroke-width="0.3" font-weight="bold" text-anchor="end" >25</text>
<line x1="190.0" y1="360.3" x2="191.5" y2="360.3" stroke="#333" stroke-width="0.6" />
<text x="189.7" y="362.0" font-size="4.7" stroke="#000" stroke-width="0.3" font-weight="bold" text-anchor="end" >50</text>
<line x1="190.0" y1="344.95000000000005" x2="191.5" y2="344.95000000000005" stroke="#333" stroke-width="0.6" />
<text x="189.7" y="346.65000000000003" font-size="4.7" stroke="#000" stroke-width="0.3" font-weight="bold" text-anchor="end" >75</text>
<line x1="190.0" y1="329.6" x2="191.5" y2="329.6" stroke="#333" stroke-width="0.6" />
<text x="189.7" y="331.3" font-size="4.7" stroke="#000" stroke-width="0.3" font-weight="bold" text-anchor="end" >100</text>
<line x1="191.5" y1="391.0" x2="191.5" y2="392.5" stroke="#333" stroke-width="0.6" />
<text x="191.5" y="396.8" font-size="4.6" stroke="#000" stroke-width="0.3" font-weight="bold" text-anchor="middle" >0</text>
<line x1="214.625" y1="391.0" x2="214.625" y2="392.5" stroke="#333" stroke-width="0.6" />
<text x="214.625" y="396.8" font-size="4.6" stroke="#000" stroke-width="0.3" font-weight="bold" text-anchor="middle" >25</text>
<line x1="237.75" y1="391.0" x2="237.75" y2="392.5" stroke="#333" stroke-width="0.6" />
<text x="237.75" y="396.8" font-size="4.6" stroke="#000" stroke-width="0.3" font-weight="bold" text-anchor="middle" >50</text>
<line x1="260.875" y1="391.0" x2="260.875" y2="392.5" stroke="#333" stroke-width="0.6" />
<text x="260.875" y="396.8" font-size="4.6" stroke="#000" stroke-width="0.3" font-weight="bold" text-anchor="middle" >75</text>
<line x1="284.0" y1="391.0" x2="284.0" y2="392.5" stroke="#333" stroke-width="0.6" />
<text x="284.0" y="396.8" font-size="4.6" stroke="#000" stroke-width="0.3" font-weight="bold" text-anchor="middle" >100</text>
<text x="240.0625" y="404.6" font-size="5.4" stroke="#000" stroke-width="0.25" font-weight="bold" text-anchor="middle" textLength="12" lengthAdjust="spacingAndGlyphs" >days</text>
<text x="177.8" y="358.5" font-size="5.0" stroke="#000" stroke-width="0.25" font-weight="bold" text-anchor="middle" textLength="26" lengthAdjust="spacingAndGlyphs" transform="rotate(-90 177.8 358.5)" >% survival</text>
<path d="M191.5,329.6 H284" stroke="#333" stroke-width="0.9" fill="none" />
<circle cx="284" cy="329.6" r="1.1" fill="#000"/>
<circle cx="192" cy="329.6" r="1.1" fill="#000"/>
<path d="M191.5,329.6 H199.75 V333.1 H203.1 V336.9 H209.75 V340.6 H213.1 V345 H213.75 V346.9 H220.6 V363.1 H223.1 V366.25 H223.75 V370.6 H227.25 V375 H235 V378.75 H237.25 V382.75 H238.1 V386.5 H284" stroke="#333" stroke-width="0.9" fill="none" />
<path d="M191.5,329.6 H208.1 V333.5 H210 V337.5 H212.5 V341.9 H214.4 V350.6 H217.25 V358.1 H223.75 V366.25 H227.25 V370.25 H240.6 V374.4 H244.75 V378.75 H253.75 V382.75 H261.25 V386.9 H284" stroke="#333" stroke-width="0.9" fill="none" />
<circle cx="199.75" cy="333.1" r="1.25" fill="#000"/>
<circle cx="203.1" cy="336.9" r="1.25" fill="#000"/>
<circle cx="209.75" cy="340.6" r="1.25" fill="#000"/>
<circle cx="213.1" cy="345" r="1.25" fill="#000"/>
<circle cx="213.75" cy="346.9" r="1.25" fill="#000"/>
<circle cx="220.6" cy="351.9" r="1.25" fill="#000"/>
<circle cx="220.6" cy="363.1" r="1.25" fill="#000"/>
<circle cx="223.1" cy="366.25" r="1.25" fill="#000"/>
<circle cx="223.75" cy="370.6" r="1.25" fill="#000"/>
<circle cx="227.25" cy="375" r="1.25" fill="#000"/>
<circle cx="235" cy="378.75" r="1.25" fill="#000"/>
<circle cx="237.25" cy="382.75" r="1.25" fill="#000"/>
<circle cx="238.1" cy="386.5" r="1.25" fill="#000"/>
<circle cx="284" cy="386.5" r="1.25" fill="#000"/>
<circle cx="208.1" cy="333.5" r="1.0" fill="#fff" stroke="#000" stroke-width="0.65"/>
<circle cx="210" cy="337.5" r="1.0" fill="#fff" stroke="#000" stroke-width="0.65"/>
<circle cx="212.5" cy="341.9" r="1.0" fill="#fff" stroke="#000" stroke-width="0.65"/>
<circle cx="214.4" cy="350.6" r="1.0" fill="#fff" stroke="#000" stroke-width="0.65"/>
<circle cx="217.25" cy="358.1" r="1.0" fill="#fff" stroke="#000" stroke-width="0.65"/>
<circle cx="227.25" cy="370.25" r="1.0" fill="#fff" stroke="#000" stroke-width="0.65"/>
<circle cx="240.6" cy="374.4" r="1.0" fill="#fff" stroke="#000" stroke-width="0.65"/>
<circle cx="244.75" cy="378.75" r="1.0" fill="#fff" stroke="#000" stroke-width="0.65"/>
<circle cx="253.75" cy="382.75" r="1.0" fill="#fff" stroke="#000" stroke-width="0.65"/>
<circle cx="261.25" cy="386.9" r="1.0" fill="#fff" stroke="#000" stroke-width="0.65"/>
<line x1="318.7" y1="13.0" x2="318.7" y2="79.5" stroke="#444" stroke-width="1.35" />
<line x1="318.5" y1="79.2" x2="414.5" y2="79.2" stroke="#444" stroke-width="1.35" />
<line x1="317.2" y1="13.75" x2="318.7" y2="13.75" stroke="#333" stroke-width="0.6" />
<text x="316.7" y="15.25" font-size="4.1" stroke="#000" stroke-width="0.28" font-weight="bold" text-anchor="end" >28</text>
<line x1="317.2" y1="21.95" x2="318.7" y2="21.95" stroke="#333" stroke-width="0.6" />
<text x="316.7" y="23.45" font-size="4.1" stroke="#000" stroke-width="0.28" font-weight="bold" text-anchor="end" >26</text>
<line x1="317.2" y1="30.15" x2="318.7" y2="30.15" stroke="#333" stroke-width="0.6" />
<text x="316.7" y="31.65" font-size="4.1" stroke="#000" stroke-width="0.28" font-weight="bold" text-anchor="end" >24</text>
<line x1="317.2" y1="38.349999999999994" x2="318.7" y2="38.349999999999994" stroke="#333" stroke-width="0.6" />
<text x="316.7" y="39.849999999999994" font-size="4.1" stroke="#000" stroke-width="0.28" font-weight="bold" text-anchor="end" >22</text>
<line x1="317.2" y1="46.55" x2="318.7" y2="46.55" stroke="#333" stroke-width="0.6" />
<text x="316.7" y="48.05" font-size="4.1" stroke="#000" stroke-width="0.28" font-weight="bold" text-anchor="end" >20</text>
<line x1="317.2" y1="54.75" x2="318.7" y2="54.75" stroke="#333" stroke-width="0.6" />
<text x="316.7" y="56.25" font-size="4.1" stroke="#000" stroke-width="0.28" font-weight="bold" text-anchor="end" >18</text>
<line x1="317.2" y1="62.949999999999996" x2="318.7" y2="62.949999999999996" stroke="#333" stroke-width="0.6" />
<text x="316.7" y="64.44999999999999" font-size="4.1" stroke="#000" stroke-width="0.28" font-weight="bold" text-anchor="end" >16</text>
<line x1="317.2" y1="71.14999999999999" x2="318.7" y2="71.14999999999999" stroke="#333" stroke-width="0.6" />
<text x="316.7" y="72.64999999999999" font-size="4.1" stroke="#000" stroke-width="0.28" font-weight="bold" text-anchor="end" >14</text>
<line x1="317.2" y1="79.35" x2="318.7" y2="79.35" stroke="#333" stroke-width="0.6" />
<text x="316.7" y="80.85" font-size="4.1" stroke="#000" stroke-width="0.28" font-weight="bold" text-anchor="end" >12</text>
<line x1="320.25" y1="79.2" x2="320.25" y2="80.7" stroke="#333" stroke-width="0.6" />
<text x="320.25" y="85.2" font-size="4.6" stroke="#000" stroke-width="0.3" font-weight="bold" text-anchor="middle" >0</text>
<line x1="343.275" y1="79.2" x2="343.275" y2="80.7" stroke="#333" stroke-width="0.6" />
<text x="343.275" y="85.2" font-size="4.6" stroke="#000" stroke-width="0.3" font-weight="bold" text-anchor="middle" >25</text>
<line x1="366.3" y1="79.2" x2="366.3" y2="80.7" stroke="#333" stroke-width="0.6" />
<text x="366.3" y="85.2" font-size="4.6" stroke="#000" stroke-width="0.3" font-weight="bold" text-anchor="middle" >50</text>
<line x1="389.325" y1="79.2" x2="389.325" y2="80.7" stroke="#333" stroke-width="0.6" />
<text x="389.325" y="85.2" font-size="4.6" stroke="#000" stroke-width="0.3" font-weight="bold" text-anchor="middle" >75</text>
<line x1="412.35" y1="79.2" x2="412.35" y2="80.7" stroke="#333" stroke-width="0.6" />
<text x="412.35" y="85.2" font-size="4.6" stroke="#000" stroke-width="0.3" font-weight="bold" text-anchor="middle" >100</text>
<text x="367.1" y="92.3" font-size="5.4" stroke="#000" stroke-width="0.25" font-weight="bold" text-anchor="middle" textLength="12" lengthAdjust="spacingAndGlyphs" >days</text>
<text x="306.7" y="43.3" font-size="4.6" stroke="#000" stroke-width="0.25" font-weight="bold" text-anchor="middle" textLength="12" lengthAdjust="spacingAndGlyphs" transform="rotate(-90 306.7 43.3)" >grams</text>
<polyline points="319.80,22.50 322.60,27.50 325.00,31.00 328.00,31.70 331.00,29.70 334.00,28.20 337.00,26.80 340.00,24.80 342.50,20.40 344.50,20.00 348.50,20.90 354.50,20.40 361.25,22.50 367.75,23.75 374.00,21.25 379.75,19.40 387.25,19.40 394.50,21.25 399.40,22.90 407.50,20.25 414.00,19.75" fill="none" stroke="#222" stroke-width="0.8"/>
<path d="M319.8,20.3 V24.7 M318.7,20.3 H320.90000000000003 M318.7,24.7 H320.90000000000003" stroke="#444" stroke-width="0.6" fill="none"/>
<circle cx="319.8" cy="22.5" r="1.25" fill="#000"/>
<path d="M322.6,25.3 V29.7 M321.5,25.3 H323.70000000000005 M321.5,29.7 H323.70000000000005" stroke="#444" stroke-width="0.6" fill="none"/>
<circle cx="322.6" cy="27.5" r="1.25" fill="#000"/>
<path d="M325,28.8 V33.2 M323.9,28.8 H326.1 M323.9,33.2 H326.1" stroke="#444" stroke-width="0.6" fill="none"/>
<circle cx="325" cy="31" r="1.25" fill="#000"/>
<path d="M328,29.5 V33.9 M326.9,29.5 H329.1 M326.9,33.9 H329.1" stroke="#444" stroke-width="0.6" fill="none"/>
<circle cx="328" cy="31.7" r="1.25" fill="#000"/>
<path d="M331,27.5 V31.9 M329.9,27.5 H332.1 M329.9,31.9 H332.1" stroke="#444" stroke-width="0.6" fill="none"/>
<circle cx="331" cy="29.7" r="1.25" fill="#000"/>
<path d="M334,26.0 V30.4 M332.9,26.0 H335.1 M332.9,30.4 H335.1" stroke="#444" stroke-width="0.6" fill="none"/>
<circle cx="334" cy="28.2" r="1.25" fill="#000"/>
<path d="M337,24.6 V29.0 M335.9,24.6 H338.1 M335.9,29.0 H338.1" stroke="#444" stroke-width="0.6" fill="none"/>
<circle cx="337" cy="26.8" r="1.25" fill="#000"/>
<path d="M340,22.6 V27.0 M338.9,22.6 H341.1 M338.9,27.0 H341.1" stroke="#444" stroke-width="0.6" fill="none"/>
<circle cx="340" cy="24.8" r="1.25" fill="#000"/>
<path d="M342.5,18.2 V22.599999999999998 M341.4,18.2 H343.6 M341.4,22.599999999999998 H343.6" stroke="#444" stroke-width="0.6" fill="none"/>
<circle cx="342.5" cy="20.4" r="1.25" fill="#000"/>
<path d="M344.5,17.8 V22.2 M343.4,17.8 H345.6 M343.4,22.2 H345.6" stroke="#444" stroke-width="0.6" fill="none"/>
<circle cx="344.5" cy="20" r="1.25" fill="#000"/>
<path d="M348.5,18.7 V23.099999999999998 M347.4,18.7 H349.6 M347.4,23.099999999999998 H349.6" stroke="#444" stroke-width="0.6" fill="none"/>
<circle cx="348.5" cy="20.9" r="1.25" fill="#000"/>
<path d="M354.5,18.2 V22.599999999999998 M353.4,18.2 H355.6 M353.4,22.599999999999998 H355.6" stroke="#444" stroke-width="0.6" fill="none"/>
<circle cx="354.5" cy="20.4" r="1.25" fill="#000"/>
<path d="M361.25,20.3 V24.7 M360.15,20.3 H362.35 M360.15,24.7 H362.35" stroke="#444" stroke-width="0.6" fill="none"/>
<circle cx="361.25" cy="22.5" r="1.25" fill="#000"/>
<path d="M367.75,21.55 V25.95 M366.65,21.55 H368.85 M366.65,25.95 H368.85" stroke="#444" stroke-width="0.6" fill="none"/>
<circle cx="367.75" cy="23.75" r="1.25" fill="#000"/>
<path d="M374,19.05 V23.45 M372.9,19.05 H375.1 M372.9,23.45 H375.1" stroke="#444" stroke-width="0.6" fill="none"/>
<circle cx="374" cy="21.25" r="1.25" fill="#000"/>
<path d="M379.75,17.2 V21.599999999999998 M378.65,17.2 H380.85 M378.65,21.599999999999998 H380.85" stroke="#444" stroke-width="0.6" fill="none"/>
<circle cx="379.75" cy="19.4" r="1.25" fill="#000"/>
<path d="M387.25,17.2 V21.599999999999998 M386.15,17.2 H388.35 M386.15,21.599999999999998 H388.35" stroke="#444" stroke-width="0.6" fill="none"/>
<circle cx="387.25" cy="19.4" r="1.25" fill="#000"/>
<path d="M394.5,19.05 V23.45 M393.4,19.05 H395.6 M393.4,23.45 H395.6" stroke="#444" stroke-width="0.6" fill="none"/>
<circle cx="394.5" cy="21.25" r="1.25" fill="#000"/>
<path d="M399.4,20.7 V25.099999999999998 M398.29999999999995,20.7 H400.5 M398.29999999999995,25.099999999999998 H400.5" stroke="#444" stroke-width="0.6" fill="none"/>
<circle cx="399.4" cy="22.9" r="1.25" fill="#000"/>
<path d="M407.5,18.05 V22.45 M406.4,18.05 H408.6 M406.4,22.45 H408.6" stroke="#444" stroke-width="0.6" fill="none"/>
<circle cx="407.5" cy="20.25" r="1.25" fill="#000"/>
<path d="M414,17.55 V21.95 M412.9,17.55 H415.1 M412.9,21.95 H415.1" stroke="#444" stroke-width="0.6" fill="none"/>
<circle cx="414" cy="19.75" r="1.25" fill="#000"/>
<polyline points="319.80,24.00 322.60,30.00 325.00,34.50 328.00,35.00 331.00,33.50 334.00,34.50 337.00,35.00 340.00,35.50 343.00,35.00 346.00,35.50 349.00,35.00 354.50,35.00 361.25,35.00 367.75,35.50 374.00,31.50 379.75,31.50 387.25,31.50 394.50,31.50 399.40,31.50 407.50,31.25 414.00,31.25" fill="none" stroke="#222" stroke-width="0.8"/>
<path d="M319.8,21.8 V26.2 M318.7,21.8 H320.90000000000003 M318.7,26.2 H320.90000000000003" stroke="#444" stroke-width="0.6" fill="none"/>
<circle cx="319.8" cy="24" r="1.0" fill="#fff" stroke="#000" stroke-width="0.65"/>
<path d="M322.6,27.8 V32.2 M321.5,27.8 H323.70000000000005 M321.5,32.2 H323.70000000000005" stroke="#444" stroke-width="0.6" fill="none"/>
<circle cx="322.6" cy="30" r="1.0" fill="#fff" stroke="#000" stroke-width="0.65"/>
<path d="M325,32.3 V36.7 M323.9,32.3 H326.1 M323.9,36.7 H326.1" stroke="#444" stroke-width="0.6" fill="none"/>
<circle cx="325" cy="34.5" r="1.0" fill="#fff" stroke="#000" stroke-width="0.65"/>
<path d="M328,32.8 V37.2 M326.9,32.8 H329.1 M326.9,37.2 H329.1" stroke="#444" stroke-width="0.6" fill="none"/>
<circle cx="328" cy="35" r="1.0" fill="#fff" stroke="#000" stroke-width="0.65"/>
<path d="M331,31.3 V35.7 M329.9,31.3 H332.1 M329.9,35.7 H332.1" stroke="#444" stroke-width="0.6" fill="none"/>
<circle cx="331" cy="33.5" r="1.0" fill="#fff" stroke="#000" stroke-width="0.65"/>
<path d="M334,32.3 V36.7 M332.9,32.3 H335.1 M332.9,36.7 H335.1" stroke="#444" stroke-width="0.6" fill="none"/>
<circle cx="334" cy="34.5" r="1.0" fill="#fff" stroke="#000" stroke-width="0.65"/>
<path d="M337,32.8 V37.2 M335.9,32.8 H338.1 M335.9,37.2 H338.1" stroke="#444" stroke-width="0.6" fill="none"/>
<circle cx="337" cy="35" r="1.0" fill="#fff" stroke="#000" stroke-width="0.65"/>
<path d="M340,33.3 V37.7 M338.9,33.3 H341.1 M338.9,37.7 H341.1" stroke="#444" stroke-width="0.6" fill="none"/>
<circle cx="340" cy="35.5" r="1.0" fill="#fff" stroke="#000" stroke-width="0.65"/>
<path d="M343,32.8 V37.2 M341.9,32.8 H344.1 M341.9,37.2 H344.1" stroke="#444" stroke-width="0.6" fill="none"/>
<circle cx="343" cy="35" r="1.0" fill="#fff" stroke="#000" stroke-width="0.65"/>
<path d="M346,33.3 V37.7 M344.9,33.3 H347.1 M344.9,37.7 H347.1" stroke="#444" stroke-width="0.6" fill="none"/>
<circle cx="346" cy="35.5" r="1.0" fill="#fff" stroke="#000" stroke-width="0.65"/>
<path d="M349,32.8 V37.2 M347.9,32.8 H350.1 M347.9,37.2 H350.1" stroke="#444" stroke-width="0.6" fill="none"/>
<circle cx="349" cy="35" r="1.0" fill="#fff" stroke="#000" stroke-width="0.65"/>
<path d="M354.5,32.8 V37.2 M353.4,32.8 H355.6 M353.4,37.2 H355.6" stroke="#444" stroke-width="0.6" fill="none"/>
<circle cx="354.5" cy="35" r="1.0" fill="#fff" stroke="#000" stroke-width="0.65"/>
<path d="M361.25,32.8 V37.2 M360.15,32.8 H362.35 M360.15,37.2 H362.35" stroke="#444" stroke-width="0.6" fill="none"/>
<circle cx="361.25" cy="35" r="1.0" fill="#fff" stroke="#000" stroke-width="0.65"/>
<path d="M367.75,33.3 V37.7 M366.65,33.3 H368.85 M366.65,37.7 H368.85" stroke="#444" stroke-width="0.6" fill="none"/>
<circle cx="367.75" cy="35.5" r="1.0" fill="#fff" stroke="#000" stroke-width="0.65"/>
<path d="M374,29.3 V33.7 M372.9,29.3 H375.1 M372.9,33.7 H375.1" stroke="#444" stroke-width="0.6" fill="none"/>
<circle cx="374" cy="31.5" r="1.0" fill="#fff" stroke="#000" stroke-width="0.65"/>
<path d="M379.75,29.3 V33.7 M378.65,29.3 H380.85 M378.65,33.7 H380.85" stroke="#444" stroke-width="0.6" fill="none"/>
<circle cx="379.75" cy="31.5" r="1.0" fill="#fff" stroke="#000" stroke-width="0.65"/>
<path d="M387.25,29.3 V33.7 M386.15,29.3 H388.35 M386.15,33.7 H388.35" stroke="#444" stroke-width="0.6" fill="none"/>
<circle cx="387.25" cy="31.5" r="1.0" fill="#fff" stroke="#000" stroke-width="0.65"/>
<path d="M394.5,29.3 V33.7 M393.4,29.3 H395.6 M393.4,33.7 H395.6" stroke="#444" stroke-width="0.6" fill="none"/>
<circle cx="394.5" cy="31.5" r="1.0" fill="#fff" stroke="#000" stroke-width="0.65"/>
<path d="M399.4,29.3 V33.7 M398.29999999999995,29.3 H400.5 M398.29999999999995,33.7 H400.5" stroke="#444" stroke-width="0.6" fill="none"/>
<circle cx="399.4" cy="31.5" r="1.0" fill="#fff" stroke="#000" stroke-width="0.65"/>
<path d="M407.5,29.05 V33.45 M406.4,29.05 H408.6 M406.4,33.45 H408.6" stroke="#444" stroke-width="0.6" fill="none"/>
<circle cx="407.5" cy="31.25" r="1.0" fill="#fff" stroke="#000" stroke-width="0.65"/>
<path d="M414,29.05 V33.45 M412.9,29.05 H415.1 M412.9,33.45 H415.1" stroke="#444" stroke-width="0.6" fill="none"/>
<circle cx="414" cy="31.25" r="1.0" fill="#fff" stroke="#000" stroke-width="0.65"/>
<polyline points="319.80,25.00 322.60,31.50 325.00,36.00 328.00,37.50 331.00,35.00 334.00,36.00 337.00,35.50 340.00,36.50 343.00,35.50 346.00,36.00 349.00,35.50 354.50,35.50 361.25,35.50 367.75,34.50 374.00,32.50 379.75,33.50 387.25,34.00 394.50,34.50 399.40,36.50 407.50,37.50 414.00,37.50" fill="none" stroke="#222" stroke-width="0.8"/>
<path d="M319.8,22.8 V27.2 M318.7,22.8 H320.90000000000003 M318.7,27.2 H320.90000000000003" stroke="#444" stroke-width="0.6" fill="none"/>
<path d="M318.5,24.1 H321.1 L319.8,26.3 Z" fill="#000"/>
<path d="M322.6,29.3 V33.7 M321.5,29.3 H323.70000000000005 M321.5,33.7 H323.70000000000005" stroke="#444" stroke-width="0.6" fill="none"/>
<path d="M321.3,30.6 H323.90000000000003 L322.6,32.8 Z" fill="#000"/>
<path d="M325,33.8 V38.2 M323.9,33.8 H326.1 M323.9,38.2 H326.1" stroke="#444" stroke-width="0.6" fill="none"/>
<path d="M323.7,35.1 H326.3 L325,37.3 Z" fill="#000"/>
<path d="M328,35.3 V39.7 M326.9,35.3 H329.1 M326.9,39.7 H329.1" stroke="#444" stroke-width="0.6" fill="none"/>
<path d="M326.7,36.6 H329.3 L328,38.8 Z" fill="#000"/>
<path d="M331,32.8 V37.2 M329.9,32.8 H332.1 M329.9,37.2 H332.1" stroke="#444" stroke-width="0.6" fill="none"/>
<path d="M329.7,34.1 H332.3 L331,36.3 Z" fill="#000"/>
<path d="M334,33.8 V38.2 M332.9,33.8 H335.1 M332.9,38.2 H335.1" stroke="#444" stroke-width="0.6" fill="none"/>
<path d="M332.7,35.1 H335.3 L334,37.3 Z" fill="#000"/>
<path d="M337,33.3 V37.7 M335.9,33.3 H338.1 M335.9,37.7 H338.1" stroke="#444" stroke-width="0.6" fill="none"/>
<path d="M335.7,34.6 H338.3 L337,36.8 Z" fill="#000"/>
<path d="M340,34.3 V38.7 M338.9,34.3 H341.1 M338.9,38.7 H341.1" stroke="#444" stroke-width="0.6" fill="none"/>
<path d="M338.7,35.6 H341.3 L340,37.8 Z" fill="#000"/>
<path d="M343,33.3 V37.7 M341.9,33.3 H344.1 M341.9,37.7 H344.1" stroke="#444" stroke-width="0.6" fill="none"/>
<path d="M341.7,34.6 H344.3 L343,36.8 Z" fill="#000"/>
<path d="M346,33.8 V38.2 M344.9,33.8 H347.1 M344.9,38.2 H347.1" stroke="#444" stroke-width="0.6" fill="none"/>
<path d="M344.7,35.1 H347.3 L346,37.3 Z" fill="#000"/>
<path d="M349,33.3 V37.7 M347.9,33.3 H350.1 M347.9,37.7 H350.1" stroke="#444" stroke-width="0.6" fill="none"/>
<path d="M347.7,34.6 H350.3 L349,36.8 Z" fill="#000"/>
<path d="M354.5,33.3 V37.7 M353.4,33.3 H355.6 M353.4,37.7 H355.6" stroke="#444" stroke-width="0.6" fill="none"/>
<path d="M353.2,34.6 H355.8 L354.5,36.8 Z" fill="#000"/>
<path d="M361.25,33.3 V37.7 M360.15,33.3 H362.35 M360.15,37.7 H362.35" stroke="#444" stroke-width="0.6" fill="none"/>
<path d="M359.95,34.6 H362.55 L361.25,36.8 Z" fill="#000"/>
<path d="M367.75,32.3 V36.7 M366.65,32.3 H368.85 M366.65,36.7 H368.85" stroke="#444" stroke-width="0.6" fill="none"/>
<path d="M366.45,33.6 H369.05 L367.75,35.8 Z" fill="#000"/>
<path d="M374,30.3 V34.7 M372.9,30.3 H375.1 M372.9,34.7 H375.1" stroke="#444" stroke-width="0.6" fill="none"/>
<path d="M372.7,31.6 H375.3 L374,33.8 Z" fill="#000"/>
<path d="M379.75,31.3 V35.7 M378.65,31.3 H380.85 M378.65,35.7 H380.85" stroke="#444" stroke-width="0.6" fill="none"/>
<path d="M378.45,32.6 H381.05 L379.75,34.8 Z" fill="#000"/>
<path d="M387.25,31.8 V36.2 M386.15,31.8 H388.35 M386.15,36.2 H388.35" stroke="#444" stroke-width="0.6" fill="none"/>
<path d="M385.95,33.1 H388.55 L387.25,35.3 Z" fill="#000"/>
<path d="M394.5,32.3 V36.7 M393.4,32.3 H395.6 M393.4,36.7 H395.6" stroke="#444" stroke-width="0.6" fill="none"/>
<path d="M393.2,33.6 H395.8 L394.5,35.8 Z" fill="#000"/>
<path d="M399.4,34.3 V38.7 M398.29999999999995,34.3 H400.5 M398.29999999999995,38.7 H400.5" stroke="#444" stroke-width="0.6" fill="none"/>
<path d="M398.09999999999997,35.6 H400.7 L399.4,37.8 Z" fill="#000"/>
<path d="M407.5,35.3 V39.7 M406.4,35.3 H408.6 M406.4,39.7 H408.6" stroke="#444" stroke-width="0.6" fill="none"/>
<path d="M406.2,36.6 H408.8 L407.5,38.8 Z" fill="#000"/>
<path d="M414,35.3 V39.7 M412.9,35.3 H415.1 M412.9,39.7 H415.1" stroke="#444" stroke-width="0.6" fill="none"/>
<path d="M412.7,36.6 H415.3 L414,38.8 Z" fill="#000"/>
<polyline points="319.80,26.00 322.60,33.50 325.00,41.00 328.00,48.00 331.00,48.30 335.00,45.40 338.00,47.40 341.00,50.30 344.00,54.50 348.00,52.50 355.00,48.10 361.25,51.90 367.75,49.60 374.00,46.00 379.75,42.10 387.25,40.90 394.50,40.90 399.40,38.75 407.50,38.40 414.00,37.10" fill="none" stroke="#222" stroke-width="0.8"/>
<path d="M319.8,23.5 V28.5 M318.7,23.5 H320.90000000000003 M318.7,28.5 H320.90000000000003" stroke="#444" stroke-width="0.6" fill="none"/>
<circle cx="319.8" cy="26" r="1.25" fill="#000"/>
<path d="M322.6,31.0 V36.0 M321.5,31.0 H323.70000000000005 M321.5,36.0 H323.70000000000005" stroke="#444" stroke-width="0.6" fill="none"/>
<circle cx="322.6" cy="33.5" r="1.25" fill="#000"/>
<path d="M325,38.5 V43.5 M323.9,38.5 H326.1 M323.9,43.5 H326.1" stroke="#444" stroke-width="0.6" fill="none"/>
<circle cx="325" cy="41" r="1.25" fill="#000"/>
<path d="M328,45.5 V50.5 M326.9,45.5 H329.1 M326.9,50.5 H329.1" stroke="#444" stroke-width="0.6" fill="none"/>
<circle cx="328" cy="48" r="1.25" fill="#000"/>
<path d="M331,45.8 V50.8 M329.9,45.8 H332.1 M329.9,50.8 H332.1" stroke="#444" stroke-width="0.6" fill="none"/>
<circle cx="331" cy="48.3" r="1.25" fill="#000"/>
<path d="M335,42.9 V47.9 M333.9,42.9 H336.1 M333.9,47.9 H336.1" stroke="#444" stroke-width="0.6" fill="none"/>
<circle cx="335" cy="45.4" r="1.25" fill="#000"/>
<path d="M338,44.9 V49.9 M336.9,44.9 H339.1 M336.9,49.9 H339.1" stroke="#444" stroke-width="0.6" fill="none"/>
<circle cx="338" cy="47.4" r="1.25" fill="#000"/>
<path d="M341,47.8 V52.8 M339.9,47.8 H342.1 M339.9,52.8 H342.1" stroke="#444" stroke-width="0.6" fill="none"/>
<circle cx="341" cy="50.3" r="1.25" fill="#000"/>
<path d="M344,52.0 V57.0 M342.9,52.0 H345.1 M342.9,57.0 H345.1" stroke="#444" stroke-width="0.6" fill="none"/>
<circle cx="344" cy="54.5" r="1.25" fill="#000"/>
<path d="M348,50.0 V55.0 M346.9,50.0 H349.1 M346.9,55.0 H349.1" stroke="#444" stroke-width="0.6" fill="none"/>
<circle cx="348" cy="52.5" r="1.25" fill="#000"/>
<path d="M355,45.6 V50.6 M353.9,45.6 H356.1 M353.9,50.6 H356.1" stroke="#444" stroke-width="0.6" fill="none"/>
<circle cx="355" cy="48.1" r="1.25" fill="#000"/>
<path d="M361.25,49.4 V54.4 M360.15,49.4 H362.35 M360.15,54.4 H362.35" stroke="#444" stroke-width="0.6" fill="none"/>
<circle cx="361.25" cy="51.9" r="1.25" fill="#000"/>
<path d="M367.75,47.1 V52.1 M366.65,47.1 H368.85 M366.65,52.1 H368.85" stroke="#444" stroke-width="0.6" fill="none"/>
<circle cx="367.75" cy="49.6" r="1.25" fill="#000"/>
<path d="M374,43.5 V48.5 M372.9,43.5 H375.1 M372.9,48.5 H375.1" stroke="#444" stroke-width="0.6" fill="none"/>
<circle cx="374" cy="46" r="1.25" fill="#000"/>
<path d="M379.75,37.1 V47.1 M378.65,37.1 H380.85 M378.65,47.1 H380.85" stroke="#444" stroke-width="0.6" fill="none"/>
<circle cx="379.75" cy="42.1" r="1.25" fill="#000"/>
<path d="M387.25,34.9 V46.9 M386.15,34.9 H388.35 M386.15,46.9 H388.35" stroke="#444" stroke-width="0.6" fill="none"/>
<circle cx="387.25" cy="40.9" r="1.25" fill="#000"/>
<path d="M394.5,34.9 V46.9 M393.4,34.9 H395.6 M393.4,46.9 H395.6" stroke="#444" stroke-width="0.6" fill="none"/>
<circle cx="394.5" cy="40.9" r="1.25" fill="#000"/>
<path d="M399.4,33.75 V43.75 M398.29999999999995,33.75 H400.5 M398.29999999999995,43.75 H400.5" stroke="#444" stroke-width="0.6" fill="none"/>
<circle cx="399.4" cy="38.75" r="1.25" fill="#000"/>
<path d="M407.5,34.4 V42.4 M406.4,34.4 H408.6 M406.4,42.4 H408.6" stroke="#444" stroke-width="0.6" fill="none"/>
<circle cx="407.5" cy="38.4" r="1.25" fill="#000"/>
<path d="M414,34.6 V39.6 M412.9,34.6 H415.1 M412.9,39.6 H415.1" stroke="#444" stroke-width="0.6" fill="none"/>
<circle cx="414" cy="37.1" r="1.25" fill="#000"/>
<polyline points="319.80,25.50 322.60,35.00 325.00,42.50 328.00,50.00 331.00,47.00 334.00,46.50 337.00,48.50 340.00,52.00 343.00,56.50 345.50,61.00 348.00,63.75" fill="none" stroke="#222" stroke-width="0.8"/>
<path d="M319.8,23.0 V28.0 M318.7,23.0 H320.90000000000003 M318.7,28.0 H320.90000000000003" stroke="#444" stroke-width="0.6" fill="none"/>
<circle cx="319.8" cy="25.5" r="1.25" fill="#000"/>
<path d="M322.6,32.5 V37.5 M321.5,32.5 H323.70000000000005 M321.5,37.5 H323.70000000000005" stroke="#444" stroke-width="0.6" fill="none"/>
<circle cx="322.6" cy="35" r="1.25" fill="#000"/>
<path d="M325,40.0 V45.0 M323.9,40.0 H326.1 M323.9,45.0 H326.1" stroke="#444" stroke-width="0.6" fill="none"/>
<circle cx="325" cy="42.5" r="1.25" fill="#000"/>
<path d="M328,47.5 V52.5 M326.9,47.5 H329.1 M326.9,52.5 H329.1" stroke="#444" stroke-width="0.6" fill="none"/>
<circle cx="328" cy="50" r="1.25" fill="#000"/>
<path d="M331,44.5 V49.5 M329.9,44.5 H332.1 M329.9,49.5 H332.1" stroke="#444" stroke-width="0.6" fill="none"/>
<circle cx="331" cy="47" r="1.25" fill="#000"/>
<path d="M334,44.0 V49.0 M332.9,44.0 H335.1 M332.9,49.0 H335.1" stroke="#444" stroke-width="0.6" fill="none"/>
<circle cx="334" cy="46.5" r="1.25" fill="#000"/>
<path d="M337,46.0 V51.0 M335.9,46.0 H338.1 M335.9,51.0 H338.1" stroke="#444" stroke-width="0.6" fill="none"/>
<circle cx="337" cy="48.5" r="1.25" fill="#000"/>
<path d="M340,49.5 V54.5 M338.9,49.5 H341.1 M338.9,54.5 H341.1" stroke="#444" stroke-width="0.6" fill="none"/>
<circle cx="340" cy="52" r="1.25" fill="#000"/>
<path d="M343,54.0 V59.0 M341.9,54.0 H344.1 M341.9,59.0 H344.1" stroke="#444" stroke-width="0.6" fill="none"/>
<circle cx="343" cy="56.5" r="1.25" fill="#000"/>
<path d="M345.5,58.5 V63.5 M344.4,58.5 H346.6 M344.4,63.5 H346.6" stroke="#444" stroke-width="0.6" fill="none"/>
<circle cx="345.5" cy="61" r="1.25" fill="#000"/>
<path d="M348,55.75 V71.75 M346.9,55.75 H349.1 M346.9,71.75 H349.1" stroke="#444" stroke-width="0.6" fill="none"/>
<circle cx="348" cy="63.75" r="1.25" fill="#000"/>
<path d="M319.8,21.5 L320,27.5 L322.6,29 L323.5,36" stroke="#111" stroke-width="2.0" fill="none" filter="url(#bl2)"/>
<line x1="320" y1="116.5" x2="320" y2="183.4" stroke="#444" stroke-width="1.35" />
<line x1="319.8" y1="183.1" x2="417.5" y2="183.1" stroke="#444" stroke-width="1.35" />
<line x1="318.5" y1="117.69999999999999" x2="320" y2="117.69999999999999" stroke="#333" stroke-width="0.6" />
<text x="318.0" y="119.19999999999999" font-size="4.1" stroke="#000" stroke-width="0.28" font-weight="bold" text-anchor="end" >26</text>
<line x1="318.5" y1="128.6" x2="320" y2="128.6" stroke="#333" stroke-width="0.6" />
<text x="318.0" y="130.1" font-size="4.1" stroke="#000" stroke-width="0.28" font-weight="bold" text-anchor="end" >24</text>
<line x1="318.5" y1="139.5" x2="320" y2="139.5" stroke="#333" stroke-width="0.6" />
<text x="318.0" y="141.0" font-size="4.1" stroke="#000" stroke-width="0.28" font-weight="bold" text-anchor="end" >22</text>
<line x1="318.5" y1="150.39999999999998" x2="320" y2="150.39999999999998" stroke="#333" stroke-width="0.6" />
<text x="318.0" y="151.89999999999998" font-size="4.1" stroke="#000" stroke-width="0.28" font-weight="bold" text-anchor="end" >20</text>
<line x1="318.5" y1="161.29999999999998" x2="320" y2="161.29999999999998" stroke="#333" stroke-width="0.6" />
<text x="318.0" y="162.79999999999998" font-size="4.1" stroke="#000" stroke-width="0.28" font-weight="bold" text-anchor="end" >18</text>
<line x1="318.5" y1="172.2" x2="320" y2="172.2" stroke="#333" stroke-width="0.6" />
<text x="318.0" y="173.7" font-size="4.1" stroke="#000" stroke-width="0.28" font-weight="bold" text-anchor="end" >16</text>
<line x1="318.5" y1="183.1" x2="320" y2="183.1" stroke="#333" stroke-width="0.6" />
<text x="318.0" y="184.6" font-size="4.1" stroke="#000" stroke-width="0.28" font-weight="bold" text-anchor="end" >14</text>
<line x1="321.0" y1="183.1" x2="321.0" y2="184.6" stroke="#333" stroke-width="0.6" />
<text x="321.0" y="190.3" font-size="4.6" stroke="#000" stroke-width="0.3" font-weight="bold" text-anchor="middle" >0</text>
<line x1="344.15" y1="183.1" x2="344.15" y2="184.6" stroke="#333" stroke-width="0.6" />
<text x="344.15" y="190.3" font-size="4.6" stroke="#000" stroke-width="0.3" font-weight="bold" text-anchor="middle" >25</text>
<line x1="367.3" y1="183.1" x2="367.3" y2="184.6" stroke="#333" stroke-width="0.6" />
<text x="367.3" y="190.3" font-size="4.6" stroke="#000" stroke-width="0.3" font-weight="bold" text-anchor="middle" >50</text>
<line x1="390.45" y1="183.1" x2="390.45" y2="184.6" stroke="#333" stroke-width="0.6" />
<text x="390.45" y="190.3" font-size="4.6" stroke="#000" stroke-width="0.3" font-weight="bold" text-anchor="middle" >75</text>
<line x1="413.6" y1="183.1" x2="413.6" y2="184.6" stroke="#333" stroke-width="0.6" />
<text x="413.6" y="190.3" font-size="4.6" stroke="#000" stroke-width="0.3" font-weight="bold" text-anchor="middle" >100</text>
<text x="367.3" y="196.0" font-size="5.4" stroke="#000" stroke-width="0.25" font-weight="bold" text-anchor="middle" textLength="12" lengthAdjust="spacingAndGlyphs" >days</text>
<text x="307.7" y="151.3" font-size="4.8" stroke="#000" stroke-width="0.25" font-weight="bold" text-anchor="middle" textLength="13.2" lengthAdjust="spacingAndGlyphs" transform="rotate(-90 307.7 151.3)" >grams</text>
<polyline points="320.00,118.00 322.50,124.00 325.80,127.20 328.50,126.00 331.70,125.70 334.60,128.20 338.50,127.20 341.50,127.70 344.90,126.20 347.40,134.00 350.80,128.70 354.20,123.80 359.40,121.90 363.75,120.60 366.90,123.10 370.60,121.90 373.75,122.50 377.50,122.50 380.60,128.75 386.90,123.50 393.75,126.25 400.00,125.25 406.25,126.00 412.75,125.00" fill="none" stroke="#222" stroke-width="0.8"/>
<path d="M322.5,123.0 V125.0 M321.4,123.0 H323.6 M321.4,125.0 H323.6" stroke="#444" stroke-width="0.6" fill="none"/>
<circle cx="322.5" cy="124" r="1.25" fill="#000"/>
<path d="M325.8,126.2 V128.2 M324.7,126.2 H326.90000000000003 M324.7,128.2 H326.90000000000003" stroke="#444" stroke-width="0.6" fill="none"/>
<circle cx="325.8" cy="127.2" r="1.25" fill="#000"/>
<path d="M328.5,125.0 V127.0 M327.4,125.0 H329.6 M327.4,127.0 H329.6" stroke="#444" stroke-width="0.6" fill="none"/>
<circle cx="328.5" cy="126" r="1.25" fill="#000"/>
<path d="M331.7,124.7 V126.7 M330.59999999999997,124.7 H332.8 M330.59999999999997,126.7 H332.8" stroke="#444" stroke-width="0.6" fill="none"/>
<circle cx="331.7" cy="125.7" r="1.25" fill="#000"/>
<path d="M334.6,127.19999999999999 V129.2 M333.5,127.19999999999999 H335.70000000000005 M333.5,129.2 H335.70000000000005" stroke="#444" stroke-width="0.6" fill="none"/>
<circle cx="334.6" cy="128.2" r="1.25" fill="#000"/>
<path d="M338.5,126.2 V128.2 M337.4,126.2 H339.6 M337.4,128.2 H339.6" stroke="#444" stroke-width="0.6" fill="none"/>
<circle cx="338.5" cy="127.2" r="1.25" fill="#000"/>
<path d="M341.5,126.7 V128.7 M340.4,126.7 H342.6 M340.4,128.7 H342.6" stroke="#444" stroke-width="0.6" fill="none"/>
<circle cx="341.5" cy="127.7" r="1.25" fill="#000"/>
<path d="M344.9,125.2 V127.2 M343.79999999999995,125.2 H346.0 M343.79999999999995,127.2 H346.0" stroke="#444" stroke-width="0.6" fill="none"/>
<circle cx="344.9" cy="126.2" r="1.25" fill="#000"/>
<path d="M347.4,133.0 V135.0 M346.29999999999995,133.0 H348.5 M346.29999999999995,135.0 H348.5" stroke="#444" stroke-width="0.6" fill="none"/>
<circle cx="347.4" cy="134" r="1.25" fill="#000"/>
<path d="M350.8,127.69999999999999 V129.7 M349.7,127.69999999999999 H351.90000000000003 M349.7,129.7 H351.90000000000003" stroke="#444" stroke-width="0.6" fill="none"/>
<circle cx="350.8" cy="128.7" r="1.25" fill="#000"/>
<path d="M354.2,122.8 V124.8 M353.09999999999997,122.8 H355.3 M353.09999999999997,124.8 H355.3" stroke="#444" stroke-width="0.6" fill="none"/>
<circle cx="354.2" cy="123.8" r="1.25" fill="#000"/>
<path d="M359.4,120.9 V122.9 M358.29999999999995,120.9 H360.5 M358.29999999999995,122.9 H360.5" stroke="#444" stroke-width="0.6" fill="none"/>
<circle cx="359.4" cy="121.9" r="1.25" fill="#000"/>
<path d="M363.75,119.6 V121.6 M362.65,119.6 H364.85 M362.65,121.6 H364.85" stroke="#444" stroke-width="0.6" fill="none"/>
<circle cx="363.75" cy="120.6" r="1.25" fill="#000"/>
<path d="M366.9,122.1 V124.1 M365.79999999999995,122.1 H368.0 M365.79999999999995,124.1 H368.0" stroke="#444" stroke-width="0.6" fill="none"/>
<circle cx="366.9" cy="123.1" r="1.25" fill="#000"/>
<path d="M370.6,120.9 V122.9 M369.5,120.9 H371.70000000000005 M369.5,122.9 H371.70000000000005" stroke="#444" stroke-width="0.6" fill="none"/>
<circle cx="370.6" cy="121.9" r="1.25" fill="#000"/>
<path d="M373.75,121.5 V123.5 M372.65,121.5 H374.85 M372.65,123.5 H374.85" stroke="#444" stroke-width="0.6" fill="none"/>
<circle cx="373.75" cy="122.5" r="1.25" fill="#000"/>
<path d="M377.5,121.5 V123.5 M376.4,121.5 H378.6 M376.4,123.5 H378.6" stroke="#444" stroke-width="0.6" fill="none"/>
<circle cx="377.5" cy="122.5" r="1.25" fill="#000"/>
<path d="M380.6,127.75 V129.75 M379.5,127.75 H381.70000000000005 M379.5,129.75 H381.70000000000005" stroke="#444" stroke-width="0.6" fill="none"/>
<circle cx="380.6" cy="128.75" r="1.25" fill="#000"/>
<path d="M386.9,122.5 V124.5 M385.79999999999995,122.5 H388.0 M385.79999999999995,124.5 H388.0" stroke="#444" stroke-width="0.6" fill="none"/>
<circle cx="386.9" cy="123.5" r="1.25" fill="#000"/>
<path d="M393.75,125.25 V127.25 M392.65,125.25 H394.85 M392.65,127.25 H394.85" stroke="#444" stroke-width="0.6" fill="none"/>
<circle cx="393.75" cy="126.25" r="1.25" fill="#000"/>
<path d="M400,124.25 V126.25 M398.9,124.25 H401.1 M398.9,126.25 H401.1" stroke="#444" stroke-width="0.6" fill="none"/>
<circle cx="400" cy="125.25" r="1.25" fill="#000"/>
<path d="M406.25,125.0 V127.0 M405.15,125.0 H407.35 M405.15,127.0 H407.35" stroke="#444" stroke-width="0.6" fill="none"/>
<circle cx="406.25" cy="126" r="1.25" fill="#000"/>
<path d="M412.75,124.0 V126.0 M411.65,124.0 H413.85 M411.65,126.0 H413.85" stroke="#444" stroke-width="0.6" fill="none"/>
<circle cx="412.75" cy="125" r="1.25" fill="#000"/>
<polyline points="320.00,119.00 322.50,126.00 325.80,128.70 328.50,129.50 331.70,130.10 334.60,131.60 338.50,131.10 341.50,133.10 344.90,131.10 347.40,135.00 350.80,131.60 354.20,128.70 360.00,130.00 363.75,132.50 366.90,133.50 370.60,130.60 373.75,132.50 377.50,132.50 380.60,139.40 386.90,133.10 393.10,132.50 400.00,132.50 406.25,136.90 412.75,131.50" fill="none" stroke="#222" stroke-width="0.8"/>
<path d="M322.5,124.2 V127.8 M321.4,124.2 H323.6 M321.4,127.8 H323.6" stroke="#444" stroke-width="0.6" fill="none"/>
<circle cx="322.5" cy="126" r="1.0" fill="#fff" stroke="#000" stroke-width="0.65"/>
<path d="M325.8,126.89999999999999 V130.5 M324.7,126.89999999999999 H326.90000000000003 M324.7,130.5 H326.90000000000003" stroke="#444" stroke-width="0.6" fill="none"/>
<circle cx="325.8" cy="128.7" r="1.0" fill="#fff" stroke="#000" stroke-width="0.65"/>
<path d="M328.5,127.7 V131.3 M327.4,127.7 H329.6 M327.4,131.3 H329.6" stroke="#444" stroke-width="0.6" fill="none"/>
<circle cx="328.5" cy="129.5" r="1.0" fill="#fff" stroke="#000" stroke-width="0.65"/>
<path d="M331.7,128.29999999999998 V131.9 M330.59999999999997,128.29999999999998 H332.8 M330.59999999999997,131.9 H332.8" stroke="#444" stroke-width="0.6" fill="none"/>
<circle cx="331.7" cy="130.1" r="1.0" fill="#fff" stroke="#000" stroke-width="0.65"/>
<path d="M334.6,129.79999999999998 V133.4 M333.5,129.79999999999998 H335.70000000000005 M333.5,133.4 H335.70000000000005" stroke="#444" stroke-width="0.6" fill="none"/>
<circle cx="334.6" cy="131.6" r="1.0" fill="#fff" stroke="#000" stroke-width="0.65"/>
<path d="M338.5,129.29999999999998 V132.9 M337.4,129.29999999999998 H339.6 M337.4,132.9 H339.6" stroke="#444" stroke-width="0.6" fill="none"/>
<circle cx="338.5" cy="131.1" r="1.0" fill="#fff" stroke="#000" stroke-width="0.65"/>
<path d="M341.5,131.29999999999998 V134.9 M340.4,131.29999999999998 H342.6 M340.4,134.9 H342.6" stroke="#444" stroke-width="0.6" fill="none"/>
<circle cx="341.5" cy="133.1" r="1.0" fill="#fff" stroke="#000" stroke-width="0.65"/>
<path d="M344.9,129.29999999999998 V132.9 M343.79999999999995,129.29999999999998 H346.0 M343.79999999999995,132.9 H346.0" stroke="#444" stroke-width="0.6" fill="none"/>
<circle cx="344.9" cy="131.1" r="1.0" fill="#fff" stroke="#000" stroke-width="0.65"/>
<path d="M347.4,133.2 V136.8 M346.29999999999995,133.2 H348.5 M346.29999999999995,136.8 H348.5" stroke="#444" stroke-width="0.6" fill="none"/>
<circle cx="347.4" cy="135" r="1.0" fill="#fff" stroke="#000" stroke-width="0.65"/>
<path d="M350.8,129.79999999999998 V133.4 M349.7,129.79999999999998 H351.90000000000003 M349.7,133.4 H351.90000000000003" stroke="#444" stroke-width="0.6" fill="none"/>
<circle cx="350.8" cy="131.6" r="1.0" fill="#fff" stroke="#000" stroke-width="0.65"/>
<path d="M354.2,126.89999999999999 V130.5 M353.09999999999997,126.89999999999999 H355.3 M353.09999999999997,130.5 H355.3" stroke="#444" stroke-width="0.6" fill="none"/>
<circle cx="354.2" cy="128.7" r="1.0" fill="#fff" stroke="#000" stroke-width="0.65"/>
<path d="M360,128.2 V131.8 M358.9,128.2 H361.1 M358.9,131.8 H361.1" stroke="#444" stroke-width="0.6" fill="none"/>
<circle cx="360" cy="130" r="1.0" fill="#fff" stroke="#000" stroke-width="0.65"/>
<path d="M363.75,130.7 V134.3 M362.65,130.7 H364.85 M362.65,134.3 H364.85" stroke="#444" stroke-width="0.6" fill="none"/>
<circle cx="363.75" cy="132.5" r="1.0" fill="#fff" stroke="#000" stroke-width="0.65"/>
<path d="M366.9,131.7 V135.3 M365.79999999999995,131.7 H368.0 M365.79999999999995,135.3 H368.0" stroke="#444" stroke-width="0.6" fill="none"/>
<circle cx="366.9" cy="133.5" r="1.0" fill="#fff" stroke="#000" stroke-width="0.65"/>
<path d="M370.6,128.79999999999998 V132.4 M369.5,128.79999999999998 H371.70000000000005 M369.5,132.4 H371.70000000000005" stroke="#444" stroke-width="0.6" fill="none"/>
<circle cx="370.6" cy="130.6" r="1.0" fill="#fff" stroke="#000" stroke-width="0.65"/>
<path d="M373.75,130.7 V134.3 M372.65,130.7 H374.85 M372.65,134.3 H374.85" stroke="#444" stroke-width="0.6" fill="none"/>
<circle cx="373.75" cy="132.5" r="1.0" fill="#fff" stroke="#000" stroke-width="0.65"/>
<path d="M377.5,130.7 V134.3 M376.4,130.7 H378.6 M376.4,134.3 H378.6" stroke="#444" stroke-width="0.6" fill="none"/>
<circle cx="377.5" cy="132.5" r="1.0" fill="#fff" stroke="#000" stroke-width="0.65"/>
<path d="M380.6,137.6 V141.20000000000002 M379.5,137.6 H381.70000000000005 M379.5,141.20000000000002 H381.70000000000005" stroke="#444" stroke-width="0.6" fill="none"/>
<circle cx="380.6" cy="139.4" r="1.0" fill="#fff" stroke="#000" stroke-width="0.65"/>
<path d="M386.9,131.29999999999998 V134.9 M385.79999999999995,131.29999999999998 H388.0 M385.79999999999995,134.9 H388.0" stroke="#444" stroke-width="0.6" fill="none"/>
<circle cx="386.9" cy="133.1" r="1.0" fill="#fff" stroke="#000" stroke-width="0.65"/>
<path d="M393.1,130.7 V134.3 M392.0,130.7 H394.20000000000005 M392.0,134.3 H394.20000000000005" stroke="#444" stroke-width="0.6" fill="none"/>
<circle cx="393.1" cy="132.5" r="1.0" fill="#fff" stroke="#000" stroke-width="0.65"/>
<path d="M400,130.7 V134.3 M398.9,130.7 H401.1 M398.9,134.3 H401.1" stroke="#444" stroke-width="0.6" fill="none"/>
<circle cx="400" cy="132.5" r="1.0" fill="#fff" stroke="#000" stroke-width="0.65"/>
<path d="M406.25,135.1 V138.70000000000002 M405.15,135.1 H407.35 M405.15,138.70000000000002 H407.35" stroke="#444" stroke-width="0.6" fill="none"/>
<circle cx="406.25" cy="136.9" r="1.0" fill="#fff" stroke="#000" stroke-width="0.65"/>
<path d="M412.75,129.7 V133.3 M411.65,129.7 H413.85 M411.65,133.3 H413.85" stroke="#444" stroke-width="0.6" fill="none"/>
<circle cx="412.75" cy="131.5" r="1.0" fill="#fff" stroke="#000" stroke-width="0.65"/>
<polyline points="320.00,119.00 323.00,126.00 327.25,144.40 331.50,149.50 334.75,139.40 338.10,141.90 341.25,143.75 345.00,143.10 347.50,150.00 350.60,146.25 354.40,141.90 358.75,140.00 363.75,140.60 366.90,145.60 370.60,148.75 373.50,160.00 377.90,157.50 380.90,154.75 387.25,151.00 393.10,140.00 400.00,142.75 406.25,145.60 412.75,145.00" fill="none" stroke="#222" stroke-width="0.8"/>
<path d="M323,124.0 V128.0 M321.9,124.0 H324.1 M321.9,128.0 H324.1" stroke="#444" stroke-width="0.6" fill="none"/>
<path d="M321.7,125.1 H324.3 L323,127.3 Z" fill="#000"/>
<path d="M327.25,142.4 V146.4 M326.15,142.4 H328.35 M326.15,146.4 H328.35" stroke="#444" stroke-width="0.6" fill="none"/>
<path d="M325.95,143.5 H328.55 L327.25,145.70000000000002 Z" fill="#000"/>
<path d="M331.5,147.5 V151.5 M330.4,147.5 H332.6 M330.4,151.5 H332.6" stroke="#444" stroke-width="0.6" fill="none"/>
<path d="M330.2,148.6 H332.8 L331.5,150.8 Z" fill="#000"/>
<path d="M334.75,137.4 V141.4 M333.65,137.4 H335.85 M333.65,141.4 H335.85" stroke="#444" stroke-width="0.6" fill="none"/>
<path d="M333.45,138.5 H336.05 L334.75,140.70000000000002 Z" fill="#000"/>
<path d="M338.1,139.9 V143.9 M337.0,139.9 H339.20000000000005 M337.0,143.9 H339.20000000000005" stroke="#444" stroke-width="0.6" fill="none"/>
<path d="M336.8,141.0 H339.40000000000003 L338.1,143.20000000000002 Z" fill="#000"/>
<path d="M341.25,141.75 V145.75 M340.15,141.75 H342.35 M340.15,145.75 H342.35" stroke="#444" stroke-width="0.6" fill="none"/>
<path d="M339.95,142.85 H342.55 L341.25,145.05 Z" fill="#000"/>
<path d="M345,141.1 V145.1 M343.9,141.1 H346.1 M343.9,145.1 H346.1" stroke="#444" stroke-width="0.6" fill="none"/>
<path d="M343.7,142.2 H346.3 L345,144.4 Z" fill="#000"/>
<path d="M347.5,148.0 V152.0 M346.4,148.0 H348.6 M346.4,152.0 H348.6" stroke="#444" stroke-width="0.6" fill="none"/>
<path d="M346.2,149.1 H348.8 L347.5,151.3 Z" fill="#000"/>
<path d="M350.6,144.25 V148.25 M349.5,144.25 H351.70000000000005 M349.5,148.25 H351.70000000000005" stroke="#444" stroke-width="0.6" fill="none"/>
<path d="M349.3,145.35 H351.90000000000003 L350.6,147.55 Z" fill="#000"/>
<path d="M354.4,139.9 V143.9 M353.29999999999995,139.9 H355.5 M353.29999999999995,143.9 H355.5" stroke="#444" stroke-width="0.6" fill="none"/>
<path d="M353.09999999999997,141.0 H355.7 L354.4,143.20000000000002 Z" fill="#000"/>
<path d="M358.75,138.0 V142.0 M357.65,138.0 H359.85 M357.65,142.0 H359.85" stroke="#444" stroke-width="0.6" fill="none"/>
<path d="M357.45,139.1 H360.05 L358.75,141.3 Z" fill="#000"/>
<path d="M363.75,138.6 V142.6 M362.65,138.6 H364.85 M362.65,142.6 H364.85" stroke="#444" stroke-width="0.6" fill="none"/>
<path d="M362.45,139.7 H365.05 L363.75,141.9 Z" fill="#000"/>
<path d="M366.9,143.6 V147.6 M365.79999999999995,143.6 H368.0 M365.79999999999995,147.6 H368.0" stroke="#444" stroke-width="0.6" fill="none"/>
<path d="M365.59999999999997,144.7 H368.2 L366.9,146.9 Z" fill="#000"/>
<path d="M370.6,146.75 V150.75 M369.5,146.75 H371.70000000000005 M369.5,150.75 H371.70000000000005" stroke="#444" stroke-width="0.6" fill="none"/>
<path d="M369.3,147.85 H371.90000000000003 L370.6,150.05 Z" fill="#000"/>
<path d="M373.5,155 V165 M372.4,155 H374.6 M372.4,165 H374.6" stroke="#444" stroke-width="0.6" fill="none"/>
<path d="M372.2,159.1 H374.8 L373.5,161.3 Z" fill="#000"/>
<path d="M377.9,151.5 V163.5 M376.79999999999995,151.5 H379.0 M376.79999999999995,163.5 H379.0" stroke="#444" stroke-width="0.6" fill="none"/>
<path d="M376.59999999999997,156.6 H379.2 L377.9,158.8 Z" fill="#000"/>
<path d="M380.9,148.75 V160.75 M379.79999999999995,148.75 H382.0 M379.79999999999995,160.75 H382.0" stroke="#444" stroke-width="0.6" fill="none"/>
<path d="M379.59999999999997,153.85 H382.2 L380.9,156.05 Z" fill="#000"/>
<path d="M387.25,143 V159 M386.15,143 H388.35 M386.15,159 H388.35" stroke="#444" stroke-width="0.6" fill="none"/>
<path d="M385.95,150.1 H388.55 L387.25,152.3 Z" fill="#000"/>
<path d="M393.1,136 V144 M392.0,136 H394.20000000000005 M392.0,144 H394.20000000000005" stroke="#444" stroke-width="0.6" fill="none"/>
<path d="M391.8,139.1 H394.40000000000003 L393.1,141.3 Z" fill="#000"/>
<path d="M400,140.75 V144.75 M398.9,140.75 H401.1 M398.9,144.75 H401.1" stroke="#444" stroke-width="0.6" fill="none"/>
<path d="M398.7,141.85 H401.3 L400,144.05 Z" fill="#000"/>
<path d="M406.25,143.6 V147.6 M405.15,143.6 H407.35 M405.15,147.6 H407.35" stroke="#444" stroke-width="0.6" fill="none"/>
<path d="M404.95,144.7 H407.55 L406.25,146.9 Z" fill="#000"/>
<path d="M412.75,143.0 V147.0 M411.65,143.0 H413.85 M411.65,147.0 H413.85" stroke="#444" stroke-width="0.6" fill="none"/>
<path d="M411.45,144.1 H414.05 L412.75,146.3 Z" fill="#000"/>
<polyline points="320.00,118.00 323.00,125.00 327.25,145.00 331.90,150.60 334.75,150.00 338.10,164.40 341.50,169.40 345.00,169.40 347.50,178.10 351.25,171.90 354.40,177.75 358.75,181.25" fill="none" stroke="#222" stroke-width="0.8"/>
<circle cx="323" cy="125" r="1.25" fill="#000"/>
<circle cx="327.25" cy="145" r="1.25" fill="#000"/>
<circle cx="331.9" cy="150.6" r="1.25" fill="#000"/>
<circle cx="334.75" cy="150" r="1.25" fill="#000"/>
<circle cx="338.1" cy="164.4" r="1.25" fill="#000"/>
<circle cx="341.5" cy="169.4" r="1.25" fill="#000"/>
<circle cx="345" cy="169.4" r="1.25" fill="#000"/>
<circle cx="347.5" cy="178.1" r="1.25" fill="#000"/>
<circle cx="351.25" cy="171.9" r="1.25" fill="#000"/>
<circle cx="354.4" cy="177.75" r="1.25" fill="#000"/>
<circle cx="358.75" cy="181.25" r="1.25" fill="#000"/>
<path d="M320.3,117 L321,124 L322.5,130" stroke="#111" stroke-width="2.0" fill="none" filter="url(#bl2)"/>
<line x1="320.6" y1="222.0" x2="320.6" y2="286.8" stroke="#444" stroke-width="1.35" />
<line x1="320.40000000000003" y1="286.5" x2="416.9" y2="286.5" stroke="#444" stroke-width="1.35" />
<line x1="319.1" y1="227.25" x2="320.6" y2="227.25" stroke="#333" stroke-width="0.6" />
<text x="318.6" y="228.75" font-size="4.5" stroke="#000" stroke-width="0.28" font-weight="bold" text-anchor="end" >22</text>
<line x1="319.1" y1="237.25" x2="320.6" y2="237.25" stroke="#333" stroke-width="0.6" />
<text x="318.6" y="238.75" font-size="4.5" stroke="#000" stroke-width="0.28" font-weight="bold" text-anchor="end" >20</text>
<line x1="319.1" y1="247.25" x2="320.6" y2="247.25" stroke="#333" stroke-width="0.6" />
<text x="318.6" y="248.75" font-size="4.5" stroke="#000" stroke-width="0.28" font-weight="bold" text-anchor="end" >18</text>
<line x1="319.1" y1="257.25" x2="320.6" y2="257.25" stroke="#333" stroke-width="0.6" />
<text x="318.6" y="258.75" font-size="4.5" stroke="#000" stroke-width="0.28" font-weight="bold" text-anchor="end" >16</text>
<line x1="319.1" y1="267.25" x2="320.6" y2="267.25" stroke="#333" stroke-width="0.6" />
<text x="318.6" y="268.75" font-size="4.5" stroke="#000" stroke-width="0.28" font-weight="bold" text-anchor="end" >14</text>
<line x1="319.1" y1="277.25" x2="320.6" y2="277.25" stroke="#333" stroke-width="0.6" />
<text x="318.6" y="278.75" font-size="4.5" stroke="#000" stroke-width="0.28" font-weight="bold" text-anchor="end" >12</text>
<line x1="319.1" y1="287.25" x2="320.6" y2="287.25" stroke="#333" stroke-width="0.6" />
<text x="318.6" y="288.75" font-size="4.5" stroke="#000" stroke-width="0.28" font-weight="bold" text-anchor="end" >10</text>
<line x1="323.6" y1="286.5" x2="323.6" y2="288.0" stroke="#333" stroke-width="0.6" />
<text x="323.6" y="293.2" font-size="4.6" stroke="#000" stroke-width="0.3" font-weight="bold" text-anchor="middle" >0</text>
<line x1="346.52500000000003" y1="286.5" x2="346.52500000000003" y2="288.0" stroke="#333" stroke-width="0.6" />
<text x="346.52500000000003" y="293.2" font-size="4.6" stroke="#000" stroke-width="0.3" font-weight="bold" text-anchor="middle" >25</text>
<line x1="369.45000000000005" y1="286.5" x2="369.45000000000005" y2="288.0" stroke="#333" stroke-width="0.6" />
<text x="369.45000000000005" y="293.2" font-size="4.6" stroke="#000" stroke-width="0.3" font-weight="bold" text-anchor="middle" >50</text>
<line x1="392.375" y1="286.5" x2="392.375" y2="288.0" stroke="#333" stroke-width="0.6" />
<text x="392.375" y="293.2" font-size="4.6" stroke="#000" stroke-width="0.3" font-weight="bold" text-anchor="middle" >75</text>
<line x1="415.3" y1="286.5" x2="415.3" y2="288.0" stroke="#333" stroke-width="0.6" />
<text x="415.3" y="293.2" font-size="4.6" stroke="#000" stroke-width="0.3" font-weight="bold" text-anchor="middle" >100</text>
<text x="369.45000000000005" y="300.8" font-size="5.4" stroke="#000" stroke-width="0.25" font-weight="bold" text-anchor="middle" textLength="12" lengthAdjust="spacingAndGlyphs" >days</text>
<text x="310.3" y="255" font-size="5.2" stroke="#000" stroke-width="0.25" font-weight="bold" text-anchor="middle" textLength="15" lengthAdjust="spacingAndGlyphs" transform="rotate(-90 310.3 255)" >grams</text>
<polyline points="320.60,236.00 324.50,239.00 328.75,242.50 332.50,236.90 335.60,240.60 338.75,235.00 341.90,238.10 346.25,233.10 350.60,231.90 356.90,233.10 363.75,230.60 370.00,233.10 376.90,242.50 381.90,235.60 389.40,230.60 396.00,233.50 402.25,229.75 410.60,236.50" fill="none" stroke="#222" stroke-width="0.8"/>
<path d="M324.5,236.8 V241.2 M323.4,236.8 H325.6 M323.4,241.2 H325.6" stroke="#444" stroke-width="0.6" fill="none"/>
<circle cx="324.5" cy="239" r="1.25" fill="#000"/>
<path d="M328.75,240.3 V244.7 M327.65,240.3 H329.85 M327.65,244.7 H329.85" stroke="#444" stroke-width="0.6" fill="none"/>
<circle cx="328.75" cy="242.5" r="1.25" fill="#000"/>
<path d="M332.5,234.70000000000002 V239.1 M331.4,234.70000000000002 H333.6 M331.4,239.1 H333.6" stroke="#444" stroke-width="0.6" fill="none"/>
<circle cx="332.5" cy="236.9" r="1.25" fill="#000"/>
<path d="M335.6,238.4 V242.79999999999998 M334.5,238.4 H336.70000000000005 M334.5,242.79999999999998 H336.70000000000005" stroke="#444" stroke-width="0.6" fill="none"/>
<circle cx="335.6" cy="240.6" r="1.25" fill="#000"/>
<path d="M338.75,232.8 V237.2 M337.65,232.8 H339.85 M337.65,237.2 H339.85" stroke="#444" stroke-width="0.6" fill="none"/>
<circle cx="338.75" cy="235" r="1.25" fill="#000"/>
<path d="M341.9,235.9 V240.29999999999998 M340.79999999999995,235.9 H343.0 M340.79999999999995,240.29999999999998 H343.0" stroke="#444" stroke-width="0.6" fill="none"/>
<circle cx="341.9" cy="238.1" r="1.25" fill="#000"/>
<path d="M346.25,230.9 V235.29999999999998 M345.15,230.9 H347.35 M345.15,235.29999999999998 H347.35" stroke="#444" stroke-width="0.6" fill="none"/>
<circle cx="346.25" cy="233.1" r="1.25" fill="#000"/>
<path d="M350.6,229.70000000000002 V234.1 M349.5,229.70000000000002 H351.70000000000005 M349.5,234.1 H351.70000000000005" stroke="#444" stroke-width="0.6" fill="none"/>
<circle cx="350.6" cy="231.9" r="1.25" fill="#000"/>
<path d="M356.9,230.9 V235.29999999999998 M355.79999999999995,230.9 H358.0 M355.79999999999995,235.29999999999998 H358.0" stroke="#444" stroke-width="0.6" fill="none"/>
<circle cx="356.9" cy="233.1" r="1.25" fill="#000"/>
<path d="M363.75,228.4 V232.79999999999998 M362.65,228.4 H364.85 M362.65,232.79999999999998 H364.85" stroke="#444" stroke-width="0.6" fill="none"/>
<circle cx="363.75" cy="230.6" r="1.25" fill="#000"/>
<path d="M370,230.9 V235.29999999999998 M368.9,230.9 H371.1 M368.9,235.29999999999998 H371.1" stroke="#444" stroke-width="0.6" fill="none"/>
<circle cx="370" cy="233.1" r="1.25" fill="#000"/>
<path d="M376.9,240.3 V244.7 M375.79999999999995,240.3 H378.0 M375.79999999999995,244.7 H378.0" stroke="#444" stroke-width="0.6" fill="none"/>
<circle cx="376.9" cy="242.5" r="1.25" fill="#000"/>
<path d="M381.9,233.4 V237.79999999999998 M380.79999999999995,233.4 H383.0 M380.79999999999995,237.79999999999998 H383.0" stroke="#444" stroke-width="0.6" fill="none"/>
<circle cx="381.9" cy="235.6" r="1.25" fill="#000"/>
<path d="M389.4,228.4 V232.79999999999998 M388.29999999999995,228.4 H390.5 M388.29999999999995,232.79999999999998 H390.5" stroke="#444" stroke-width="0.6" fill="none"/>
<circle cx="389.4" cy="230.6" r="1.25" fill="#000"/>
<path d="M396,231.3 V235.7 M394.9,231.3 H397.1 M394.9,235.7 H397.1" stroke="#444" stroke-width="0.6" fill="none"/>
<circle cx="396" cy="233.5" r="1.25" fill="#000"/>
<path d="M402.25,227.55 V231.95 M401.15,227.55 H403.35 M401.15,231.95 H403.35" stroke="#444" stroke-width="0.6" fill="none"/>
<circle cx="402.25" cy="229.75" r="1.25" fill="#000"/>
<path d="M410.6,234.3 V238.7 M409.5,234.3 H411.70000000000005 M409.5,238.7 H411.70000000000005" stroke="#444" stroke-width="0.6" fill="none"/>
<circle cx="410.6" cy="236.5" r="1.25" fill="#000"/>
<polyline points="320.60,237.00 324.50,244.00 328.75,250.60 332.50,248.50 335.60,245.00 338.75,238.10 341.90,241.90 346.25,246.90 350.60,248.75 356.90,245.00 363.75,241.50 370.00,240.60 376.90,242.50 381.90,255.25 389.40,257.50 396.00,247.25 402.25,243.75 410.60,243.75" fill="none" stroke="#222" stroke-width="0.8"/>
<path d="M324.5,241.8 V246.2 M323.4,241.8 H325.6 M323.4,246.2 H325.6" stroke="#444" stroke-width="0.6" fill="none"/>
<circle cx="324.5" cy="244" r="1.0" fill="#fff" stroke="#000" stroke-width="0.65"/>
<path d="M328.75,248.4 V252.79999999999998 M327.65,248.4 H329.85 M327.65,252.79999999999998 H329.85" stroke="#444" stroke-width="0.6" fill="none"/>
<circle cx="328.75" cy="250.6" r="1.0" fill="#fff" stroke="#000" stroke-width="0.65"/>
<path d="M332.5,246.3 V250.7 M331.4,246.3 H333.6 M331.4,250.7 H333.6" stroke="#444" stroke-width="0.6" fill="none"/>
<circle cx="332.5" cy="248.5" r="1.0" fill="#fff" stroke="#000" stroke-width="0.65"/>
<path d="M335.6,242.8 V247.2 M334.5,242.8 H336.70000000000005 M334.5,247.2 H336.70000000000005" stroke="#444" stroke-width="0.6" fill="none"/>
<circle cx="335.6" cy="245" r="1.0" fill="#fff" stroke="#000" stroke-width="0.65"/>
<path d="M338.75,235.9 V240.29999999999998 M337.65,235.9 H339.85 M337.65,240.29999999999998 H339.85" stroke="#444" stroke-width="0.6" fill="none"/>
<circle cx="338.75" cy="238.1" r="1.0" fill="#fff" stroke="#000" stroke-width="0.65"/>
<path d="M341.9,239.70000000000002 V244.1 M340.79999999999995,239.70000000000002 H343.0 M340.79999999999995,244.1 H343.0" stroke="#444" stroke-width="0.6" fill="none"/>
<circle cx="341.9" cy="241.9" r="1.0" fill="#fff" stroke="#000" stroke-width="0.65"/>
<path d="M346.25,244.70000000000002 V249.1 M345.15,244.70000000000002 H347.35 M345.15,249.1 H347.35" stroke="#444" stroke-width="0.6" fill="none"/>
<circle cx="346.25" cy="246.9" r="1.0" fill="#fff" stroke="#000" stroke-width="0.65"/>
<path d="M350.6,246.55 V250.95 M349.5,246.55 H351.70000000000005 M349.5,250.95 H351.70000000000005" stroke="#444" stroke-width="0.6" fill="none"/>
<circle cx="350.6" cy="248.75" r="1.0" fill="#fff" stroke="#000" stroke-width="0.65"/>
<path d="M356.9,242.8 V247.2 M355.79999999999995,242.8 H358.0 M355.79999999999995,247.2 H358.0" stroke="#444" stroke-width="0.6" fill="none"/>
<circle cx="356.9" cy="245" r="1.0" fill="#fff" stroke="#000" stroke-width="0.65"/>
<path d="M363.75,239.3 V243.7 M362.65,239.3 H364.85 M362.65,243.7 H364.85" stroke="#444" stroke-width="0.6" fill="none"/>
<circle cx="363.75" cy="241.5" r="1.0" fill="#fff" stroke="#000" stroke-width="0.65"/>
<path d="M370,238.4 V242.79999999999998 M368.9,238.4 H371.1 M368.9,242.79999999999998 H371.1" stroke="#444" stroke-width="0.6" fill="none"/>
<circle cx="370" cy="240.6" r="1.0" fill="#fff" stroke="#000" stroke-width="0.65"/>
<path d="M376.9,240.3 V244.7 M375.79999999999995,240.3 H378.0 M375.79999999999995,244.7 H378.0" stroke="#444" stroke-width="0.6" fill="none"/>
<circle cx="376.9" cy="242.5" r="1.0" fill="#fff" stroke="#000" stroke-width="0.65"/>
<path d="M381.9,253.05 V257.45 M380.79999999999995,253.05 H383.0 M380.79999999999995,257.45 H383.0" stroke="#444" stroke-width="0.6" fill="none"/>
<circle cx="381.9" cy="255.25" r="1.0" fill="#fff" stroke="#000" stroke-width="0.65"/>
<path d="M389.4,253.5 V261.5 M388.29999999999995,253.5 H390.5 M388.29999999999995,261.5 H390.5" stroke="#444" stroke-width="0.6" fill="none"/>
<circle cx="389.4" cy="257.5" r="1.0" fill="#fff" stroke="#000" stroke-width="0.65"/>
<path d="M396,240.25 V254.25 M394.9,240.25 H397.1 M394.9,254.25 H397.1" stroke="#444" stroke-width="0.6" fill="none"/>
<circle cx="396" cy="247.25" r="1.0" fill="#fff" stroke="#000" stroke-width="0.65"/>
<path d="M402.25,235.75 V251.75 M401.15,235.75 H403.35 M401.15,251.75 H403.35" stroke="#444" stroke-width="0.6" fill="none"/>
<circle cx="402.25" cy="243.75" r="1.0" fill="#fff" stroke="#000" stroke-width="0.65"/>
<path d="M410.6,241.55 V245.95 M409.5,241.55 H411.70000000000005 M409.5,245.95 H411.70000000000005" stroke="#444" stroke-width="0.6" fill="none"/>
<circle cx="410.6" cy="243.75" r="1.0" fill="#fff" stroke="#000" stroke-width="0.65"/>
<polyline points="320.60,238.00 324.50,245.00 328.75,251.25 332.50,258.75 335.60,252.50 338.75,253.75 341.90,258.10 346.25,261.25 350.60,261.00 356.90,258.10 363.75,258.10 370.00,258.50 376.90,251.25 381.90,247.25 389.40,246.00 396.00,244.40 402.25,243.50 410.60,243.75" fill="none" stroke="#222" stroke-width="0.8"/>
<path d="M324.5,242.5 V247.5 M323.4,242.5 H325.6 M323.4,247.5 H325.6" stroke="#444" stroke-width="0.6" fill="none"/>
<path d="M323.2,244.1 H325.8 L324.5,246.3 Z" fill="#000"/>
<path d="M328.75,248.75 V253.75 M327.65,248.75 H329.85 M327.65,253.75 H329.85" stroke="#444" stroke-width="0.6" fill="none"/>
<path d="M327.45,250.35 H330.05 L328.75,252.55 Z" fill="#000"/>
<path d="M332.5,256.25 V261.25 M331.4,256.25 H333.6 M331.4,261.25 H333.6" stroke="#444" stroke-width="0.6" fill="none"/>
<path d="M331.2,257.85 H333.8 L332.5,260.05 Z" fill="#000"/>
<path d="M335.6,250.0 V255.0 M334.5,250.0 H336.70000000000005 M334.5,255.0 H336.70000000000005" stroke="#444" stroke-width="0.6" fill="none"/>
<path d="M334.3,251.6 H336.90000000000003 L335.6,253.8 Z" fill="#000"/>
<path d="M338.75,251.25 V256.25 M337.65,251.25 H339.85 M337.65,256.25 H339.85" stroke="#444" stroke-width="0.6" fill="none"/>
<path d="M337.45,252.85 H340.05 L338.75,255.05 Z" fill="#000"/>
<path d="M341.9,255.60000000000002 V260.6 M340.79999999999995,255.60000000000002 H343.0 M340.79999999999995,260.6 H343.0" stroke="#444" stroke-width="0.6" fill="none"/>
<path d="M340.59999999999997,257.20000000000005 H343.2 L341.9,259.40000000000003 Z" fill="#000"/>
<path d="M346.25,258.75 V263.75 M345.15,258.75 H347.35 M345.15,263.75 H347.35" stroke="#444" stroke-width="0.6" fill="none"/>
<path d="M344.95,260.35 H347.55 L346.25,262.55 Z" fill="#000"/>
<path d="M350.6,258.5 V263.5 M349.5,258.5 H351.70000000000005 M349.5,263.5 H351.70000000000005" stroke="#444" stroke-width="0.6" fill="none"/>
<path d="M349.3,260.1 H351.90000000000003 L350.6,262.3 Z" fill="#000"/>
<path d="M356.9,255.60000000000002 V260.6 M355.79999999999995,255.60000000000002 H358.0 M355.79999999999995,260.6 H358.0" stroke="#444" stroke-width="0.6" fill="none"/>
<path d="M355.59999999999997,257.20000000000005 H358.2 L356.9,259.40000000000003 Z" fill="#000"/>
<path d="M363.75,255.60000000000002 V260.6 M362.65,255.60000000000002 H364.85 M362.65,260.6 H364.85" stroke="#444" stroke-width="0.6" fill="none"/>
<path d="M362.45,257.20000000000005 H365.05 L363.75,259.40000000000003 Z" fill="#000"/>
<path d="M370,256.0 V261.0 M368.9,256.0 H371.1 M368.9,261.0 H371.1" stroke="#444" stroke-width="0.6" fill="none"/>
<path d="M368.7,257.6 H371.3 L370,259.8 Z" fill="#000"/>
<path d="M376.9,248.75 V253.75 M375.79999999999995,248.75 H378.0 M375.79999999999995,253.75 H378.0" stroke="#444" stroke-width="0.6" fill="none"/>
<path d="M375.59999999999997,250.35 H378.2 L376.9,252.55 Z" fill="#000"/>
<path d="M381.9,244.75 V249.75 M380.79999999999995,244.75 H383.0 M380.79999999999995,249.75 H383.0" stroke="#444" stroke-width="0.6" fill="none"/>
<path d="M380.59999999999997,246.35 H383.2 L381.9,248.55 Z" fill="#000"/>
<path d="M389.4,243 V249 M388.29999999999995,243 H390.5 M388.29999999999995,249 H390.5" stroke="#444" stroke-width="0.6" fill="none"/>
<path d="M388.09999999999997,245.1 H390.7 L389.4,247.3 Z" fill="#000"/>
<path d="M396,241.4 V247.4 M394.9,241.4 H397.1 M394.9,247.4 H397.1" stroke="#444" stroke-width="0.6" fill="none"/>
<path d="M394.7,243.5 H397.3 L396,245.70000000000002 Z" fill="#000"/>
<path d="M402.25,240.5 V246.5 M401.15,240.5 H403.35 M401.15,246.5 H403.35" stroke="#444" stroke-width="0.6" fill="none"/>
<path d="M400.95,242.6 H403.55 L402.25,244.8 Z" fill="#000"/>
<path d="M410.6,241.25 V246.25 M409.5,241.25 H411.70000000000005 M409.5,246.25 H411.70000000000005" stroke="#444" stroke-width="0.6" fill="none"/>
<path d="M409.3,242.85 H411.90000000000003 L410.6,245.05 Z" fill="#000"/>
<circle cx="376.9" cy="242.5" r="1.6" fill="#000"/>
<polyline points="320.60,238.00 324.50,246.00 328.75,252.50 331.25,256.90 333.10,259.40 335.60,258.75 339.40,263.75 341.90,265.60 346.25,268.75 350.60,270.60 357.50,277.50 363.50,278.10" fill="none" stroke="#222" stroke-width="0.8"/>
<path d="M324.5,244.5 V247.5 M323.4,244.5 H325.6 M323.4,247.5 H325.6" stroke="#444" stroke-width="0.6" fill="none"/>
<circle cx="324.5" cy="246" r="1.25" fill="#000"/>
<path d="M328.75,251.0 V254.0 M327.65,251.0 H329.85 M327.65,254.0 H329.85" stroke="#444" stroke-width="0.6" fill="none"/>
<circle cx="328.75" cy="252.5" r="1.25" fill="#000"/>
<path d="M331.25,255.39999999999998 V258.4 M330.15,255.39999999999998 H332.35 M330.15,258.4 H332.35" stroke="#444" stroke-width="0.6" fill="none"/>
<circle cx="331.25" cy="256.9" r="1.25" fill="#000"/>
<path d="M333.1,257.9 V260.9 M332.0,257.9 H334.20000000000005 M332.0,260.9 H334.20000000000005" stroke="#444" stroke-width="0.6" fill="none"/>
<circle cx="333.1" cy="259.4" r="1.25" fill="#000"/>
<path d="M335.6,257.25 V260.25 M334.5,257.25 H336.70000000000005 M334.5,260.25 H336.70000000000005" stroke="#444" stroke-width="0.6" fill="none"/>
<circle cx="335.6" cy="258.75" r="1.25" fill="#000"/>
<path d="M339.4,262.25 V265.25 M338.29999999999995,262.25 H340.5 M338.29999999999995,265.25 H340.5" stroke="#444" stroke-width="0.6" fill="none"/>
<circle cx="339.4" cy="263.75" r="1.25" fill="#000"/>
<path d="M341.9,264.1 V267.1 M340.79999999999995,264.1 H343.0 M340.79999999999995,267.1 H343.0" stroke="#444" stroke-width="0.6" fill="none"/>
<circle cx="341.9" cy="265.6" r="1.25" fill="#000"/>
<path d="M346.25,267.25 V270.25 M345.15,267.25 H347.35 M345.15,270.25 H347.35" stroke="#444" stroke-width="0.6" fill="none"/>
<circle cx="346.25" cy="268.75" r="1.25" fill="#000"/>
<path d="M350.6,269.1 V272.1 M349.5,269.1 H351.70000000000005 M349.5,272.1 H351.70000000000005" stroke="#444" stroke-width="0.6" fill="none"/>
<circle cx="350.6" cy="270.6" r="1.25" fill="#000"/>
<path d="M357.5,276.0 V279.0 M356.4,276.0 H358.6 M356.4,279.0 H358.6" stroke="#444" stroke-width="0.6" fill="none"/>
<circle cx="357.5" cy="277.5" r="1.25" fill="#000"/>
<path d="M363.5,276.6 V279.6 M362.4,276.6 H364.6 M362.4,279.6 H364.6" stroke="#444" stroke-width="0.6" fill="none"/>
<circle cx="363.5" cy="278.1" r="1.25" fill="#000"/>
<path d="M321,230.5 L321.3,239" stroke="#111" stroke-width="2.2" fill="none" filter="url(#bl2)"/>
<line x1="324.8" y1="326.5" x2="324.8" y2="391.6" stroke="#444" stroke-width="1.35" />
<line x1="324.6" y1="391.3" x2="421.5" y2="391.3" stroke="#444" stroke-width="1.35" />
<line x1="323.3" y1="328.75" x2="324.8" y2="328.75" stroke="#333" stroke-width="0.6" />
<text x="322.8" y="330.25" font-size="4.5" stroke="#000" stroke-width="0.28" font-weight="bold" text-anchor="end" >22.5</text>
<line x1="323.3" y1="341.25" x2="324.8" y2="341.25" stroke="#333" stroke-width="0.6" />
<text x="322.8" y="342.75" font-size="4.5" stroke="#000" stroke-width="0.28" font-weight="bold" text-anchor="end" >20.0</text>
<line x1="323.3" y1="353.75" x2="324.8" y2="353.75" stroke="#333" stroke-width="0.6" />
<text x="322.8" y="355.25" font-size="4.5" stroke="#000" stroke-width="0.28" font-weight="bold" text-anchor="end" >17.5</text>
<line x1="323.3" y1="366.25" x2="324.8" y2="366.25" stroke="#333" stroke-width="0.6" />
<text x="322.8" y="367.75" font-size="4.5" stroke="#000" stroke-width="0.28" font-weight="bold" text-anchor="end" >15.0</text>
<line x1="323.3" y1="378.75" x2="324.8" y2="378.75" stroke="#333" stroke-width="0.6" />
<text x="322.8" y="380.25" font-size="4.5" stroke="#000" stroke-width="0.28" font-weight="bold" text-anchor="end" >12.5</text>
<line x1="323.3" y1="391.25" x2="324.8" y2="391.25" stroke="#333" stroke-width="0.6" />
<text x="322.8" y="392.75" font-size="4.5" stroke="#000" stroke-width="0.28" font-weight="bold" text-anchor="end" >10.0</text>
<line x1="327.0" y1="391.3" x2="327.0" y2="392.8" stroke="#333" stroke-width="0.6" />
<text x="327.0" y="397.1" font-size="4.6" stroke="#000" stroke-width="0.3" font-weight="bold" text-anchor="middle" >0</text>
<line x1="350.0" y1="391.3" x2="350.0" y2="392.8" stroke="#333" stroke-width="0.6" />
<text x="350.0" y="397.1" font-size="4.6" stroke="#000" stroke-width="0.3" font-weight="bold" text-anchor="middle" >25</text>
<line x1="373.0" y1="391.3" x2="373.0" y2="392.8" stroke="#333" stroke-width="0.6" />
<text x="373.0" y="397.1" font-size="4.6" stroke="#000" stroke-width="0.3" font-weight="bold" text-anchor="middle" >50</text>
<line x1="396.0" y1="391.3" x2="396.0" y2="392.8" stroke="#333" stroke-width="0.6" />
<text x="396.0" y="397.1" font-size="4.6" stroke="#000" stroke-width="0.3" font-weight="bold" text-anchor="middle" >75</text>
<line x1="419.0" y1="391.3" x2="419.0" y2="392.8" stroke="#333" stroke-width="0.6" />
<text x="419.0" y="397.1" font-size="4.6" stroke="#000" stroke-width="0.3" font-weight="bold" text-anchor="middle" >100</text>
<text x="373.0" y="405.0" font-size="5.9" stroke="#000" stroke-width="0.25" font-weight="bold" text-anchor="middle" textLength="14" lengthAdjust="spacingAndGlyphs" >days</text>
<text x="307.2" y="360" font-size="5.3" stroke="#000" stroke-width="0.25" font-weight="bold" text-anchor="middle" textLength="16" lengthAdjust="spacingAndGlyphs" transform="rotate(-90 307.2 360)" >grams</text>
<polyline points="324.80,341.00 332.50,346.90 336.25,341.25 338.75,344.40 342.50,342.50 345.60,341.90 350.00,337.50 354.75,336.25 360.60,337.25 367.25,334.75 373.75,336.90 380.25,346.00 385.60,339.75 393.10,334.40 399.40,337.50 406.00,333.10 414.40,340.60 420.00,338.10" fill="none" stroke="#222" stroke-width="0.8"/>
<path d="M332.5,344.5 V349.29999999999995 M331.4,344.5 H333.6 M331.4,349.29999999999995 H333.6" stroke="#444" stroke-width="0.6" fill="none"/>
<circle cx="332.5" cy="346.9" r="1.25" fill="#000"/>
<path d="M336.25,338.85 V343.65 M335.15,338.85 H337.35 M335.15,343.65 H337.35" stroke="#444" stroke-width="0.6" fill="none"/>
<circle cx="336.25" cy="341.25" r="1.25" fill="#000"/>
<path d="M338.75,342.0 V346.79999999999995 M337.65,342.0 H339.85 M337.65,346.79999999999995 H339.85" stroke="#444" stroke-width="0.6" fill="none"/>
<circle cx="338.75" cy="344.4" r="1.25" fill="#000"/>
<path d="M342.5,340.1 V344.9 M341.4,340.1 H343.6 M341.4,344.9 H343.6" stroke="#444" stroke-width="0.6" fill="none"/>
<circle cx="342.5" cy="342.5" r="1.25" fill="#000"/>
<path d="M345.6,339.5 V344.29999999999995 M344.5,339.5 H346.70000000000005 M344.5,344.29999999999995 H346.70000000000005" stroke="#444" stroke-width="0.6" fill="none"/>
<circle cx="345.6" cy="341.9" r="1.25" fill="#000"/>
<path d="M350,335.1 V339.9 M348.9,335.1 H351.1 M348.9,339.9 H351.1" stroke="#444" stroke-width="0.6" fill="none"/>
<circle cx="350" cy="337.5" r="1.25" fill="#000"/>
<path d="M354.75,333.85 V338.65 M353.65,333.85 H355.85 M353.65,338.65 H355.85" stroke="#444" stroke-width="0.6" fill="none"/>
<circle cx="354.75" cy="336.25" r="1.25" fill="#000"/>
<path d="M360.6,334.85 V339.65 M359.5,334.85 H361.70000000000005 M359.5,339.65 H361.70000000000005" stroke="#444" stroke-width="0.6" fill="none"/>
<circle cx="360.6" cy="337.25" r="1.25" fill="#000"/>
<path d="M367.25,332.35 V337.15 M366.15,332.35 H368.35 M366.15,337.15 H368.35" stroke="#444" stroke-width="0.6" fill="none"/>
<circle cx="367.25" cy="334.75" r="1.25" fill="#000"/>
<path d="M373.75,334.5 V339.29999999999995 M372.65,334.5 H374.85 M372.65,339.29999999999995 H374.85" stroke="#444" stroke-width="0.6" fill="none"/>
<circle cx="373.75" cy="336.9" r="1.25" fill="#000"/>
<path d="M380.25,343.6 V348.4 M379.15,343.6 H381.35 M379.15,348.4 H381.35" stroke="#444" stroke-width="0.6" fill="none"/>
<circle cx="380.25" cy="346" r="1.25" fill="#000"/>
<path d="M385.6,337.35 V342.15 M384.5,337.35 H386.70000000000005 M384.5,342.15 H386.70000000000005" stroke="#444" stroke-width="0.6" fill="none"/>
<circle cx="385.6" cy="339.75" r="1.25" fill="#000"/>
<path d="M393.1,332.0 V336.79999999999995 M392.0,332.0 H394.20000000000005 M392.0,336.79999999999995 H394.20000000000005" stroke="#444" stroke-width="0.6" fill="none"/>
<circle cx="393.1" cy="334.4" r="1.25" fill="#000"/>
<path d="M399.4,335.1 V339.9 M398.29999999999995,335.1 H400.5 M398.29999999999995,339.9 H400.5" stroke="#444" stroke-width="0.6" fill="none"/>
<circle cx="399.4" cy="337.5" r="1.25" fill="#000"/>
<path d="M406,330.70000000000005 V335.5 M404.9,330.70000000000005 H407.1 M404.9,335.5 H407.1" stroke="#444" stroke-width="0.6" fill="none"/>
<circle cx="406" cy="333.1" r="1.25" fill="#000"/>
<path d="M414.4,338.20000000000005 V343.0 M413.29999999999995,338.20000000000005 H415.5 M413.29999999999995,343.0 H415.5" stroke="#444" stroke-width="0.6" fill="none"/>
<circle cx="414.4" cy="340.6" r="1.25" fill="#000"/>
<path d="M420,335.70000000000005 V340.5 M418.9,335.70000000000005 H421.1 M418.9,340.5 H421.1" stroke="#444" stroke-width="0.6" fill="none"/>
<circle cx="420" cy="338.1" r="1.25" fill="#000"/>
<polyline points="324.80,341.00 332.50,356.25 336.25,361.25 339.40,363.75 342.50,366.90 345.60,368.75 350.00,366.50 354.40,367.25 361.00,362.50 367.50,366.25 374.00,367.25" fill="none" stroke="#222" stroke-width="0.8"/>
<path d="M332.5,353.85 V358.65 M331.4,353.85 H333.6 M331.4,358.65 H333.6" stroke="#444" stroke-width="0.6" fill="none"/>
<circle cx="332.5" cy="356.25" r="1.0" fill="#fff" stroke="#000" stroke-width="0.65"/>
<path d="M336.25,358.85 V363.65 M335.15,358.85 H337.35 M335.15,363.65 H337.35" stroke="#444" stroke-width="0.6" fill="none"/>
<circle cx="336.25" cy="361.25" r="1.0" fill="#fff" stroke="#000" stroke-width="0.65"/>
<path d="M339.4,361.35 V366.15 M338.29999999999995,361.35 H340.5 M338.29999999999995,366.15 H340.5" stroke="#444" stroke-width="0.6" fill="none"/>
<circle cx="339.4" cy="363.75" r="1.0" fill="#fff" stroke="#000" stroke-width="0.65"/>
<path d="M342.5,364.5 V369.29999999999995 M341.4,364.5 H343.6 M341.4,369.29999999999995 H343.6" stroke="#444" stroke-width="0.6" fill="none"/>
<circle cx="342.5" cy="366.9" r="1.0" fill="#fff" stroke="#000" stroke-width="0.65"/>
<path d="M345.6,366.35 V371.15 M344.5,366.35 H346.70000000000005 M344.5,371.15 H346.70000000000005" stroke="#444" stroke-width="0.6" fill="none"/>
<circle cx="345.6" cy="368.75" r="1.0" fill="#fff" stroke="#000" stroke-width="0.65"/>
<path d="M350,364.1 V368.9 M348.9,364.1 H351.1 M348.9,368.9 H351.1" stroke="#444" stroke-width="0.6" fill="none"/>
<circle cx="350" cy="366.5" r="1.0" fill="#fff" stroke="#000" stroke-width="0.65"/>
<path d="M354.4,364.85 V369.65 M353.29999999999995,364.85 H355.5 M353.29999999999995,369.65 H355.5" stroke="#444" stroke-width="0.6" fill="none"/>
<circle cx="354.4" cy="367.25" r="1.0" fill="#fff" stroke="#000" stroke-width="0.65"/>
<path d="M361,358.5 V366.5 M359.9,358.5 H362.1 M359.9,366.5 H362.1" stroke="#444" stroke-width="0.6" fill="none"/>
<circle cx="361" cy="362.5" r="1.0" fill="#fff" stroke="#000" stroke-width="0.65"/>
<path d="M367.5,355.25 V377.25 M366.4,355.25 H368.6 M366.4,377.25 H368.6" stroke="#444" stroke-width="0.6" fill="none"/>
<circle cx="367.5" cy="366.25" r="1.0" fill="#fff" stroke="#000" stroke-width="0.65"/>
<path d="M374,352.25 V382.25 M372.9,352.25 H375.1 M372.9,382.25 H375.1" stroke="#444" stroke-width="0.6" fill="none"/>
<circle cx="374" cy="367.25" r="1.0" fill="#fff" stroke="#000" stroke-width="0.65"/>
<polyline points="324.80,341.00 332.50,357.50 336.25,363.10 339.40,365.00 342.50,368.10 345.60,371.25 350.00,374.00 354.40,375.60 360.60,383.10 367.50,384.40" fill="none" stroke="#222" stroke-width="0.8"/>
<path d="M332.5,356.0 V359.0 M331.4,356.0 H333.6 M331.4,359.0 H333.6" stroke="#444" stroke-width="0.6" fill="none"/>
<path d="M331.2,356.6 H333.8 L332.5,358.8 Z" fill="#000"/>
<path d="M336.25,361.6 V364.6 M335.15,361.6 H337.35 M335.15,364.6 H337.35" stroke="#444" stroke-width="0.6" fill="none"/>
<path d="M334.95,362.20000000000005 H337.55 L336.25,364.40000000000003 Z" fill="#000"/>
<path d="M339.4,363.5 V366.5 M338.29999999999995,363.5 H340.5 M338.29999999999995,366.5 H340.5" stroke="#444" stroke-width="0.6" fill="none"/>
<path d="M338.09999999999997,364.1 H340.7 L339.4,366.3 Z" fill="#000"/>
<path d="M342.5,366.6 V369.6 M341.4,366.6 H343.6 M341.4,369.6 H343.6" stroke="#444" stroke-width="0.6" fill="none"/>
<path d="M341.2,367.20000000000005 H343.8 L342.5,369.40000000000003 Z" fill="#000"/>
<path d="M345.6,369.75 V372.75 M344.5,369.75 H346.70000000000005 M344.5,372.75 H346.70000000000005" stroke="#444" stroke-width="0.6" fill="none"/>
<path d="M344.3,370.35 H346.90000000000003 L345.6,372.55 Z" fill="#000"/>
<path d="M350,372.5 V375.5 M348.9,372.5 H351.1 M348.9,375.5 H351.1" stroke="#444" stroke-width="0.6" fill="none"/>
<path d="M348.7,373.1 H351.3 L350,375.3 Z" fill="#000"/>
<path d="M354.4,374.1 V377.1 M353.29999999999995,374.1 H355.5 M353.29999999999995,377.1 H355.5" stroke="#444" stroke-width="0.6" fill="none"/>
<path d="M353.09999999999997,374.70000000000005 H355.7 L354.4,376.90000000000003 Z" fill="#000"/>
<path d="M360.6,381.6 V384.6 M359.5,381.6 H361.70000000000005 M359.5,384.6 H361.70000000000005" stroke="#444" stroke-width="0.6" fill="none"/>
<path d="M359.3,382.20000000000005 H361.90000000000003 L360.6,384.40000000000003 Z" fill="#000"/>
<path d="M367.5,382.9 V385.9 M366.4,382.9 H368.6 M366.4,385.9 H368.6" stroke="#444" stroke-width="0.6" fill="none"/>
<path d="M366.2,383.5 H368.8 L367.5,385.7 Z" fill="#000"/>
<path d="M325.3,334 L325.5,343" stroke="#111" stroke-width="2.0" fill="none" filter="url(#bl2)"/>
<line x1="422.4" y1="17.6" x2="431.1" y2="17.6" stroke="#333" stroke-width="0.6" />
<circle cx="426.75" cy="17.6" r="0.9" fill="#000"/>
<text x="433.6" y="19.292" font-size="4.7" textLength="16.3" lengthAdjust="spacingAndGlyphs" stroke="#000" stroke-width="0.25">BM only</text>
<line x1="422.4" y1="24.5" x2="431.1" y2="24.5" stroke="#333" stroke-width="0.6" />
<circle cx="426.75" cy="24.5" r="0.9" fill="#000"/>
<text x="433.6" y="26.192" font-size="4.7" textLength="23.8" lengthAdjust="spacingAndGlyphs" stroke="#000" stroke-width="0.25">10<tspan font-size="2.6" dy="-1.3">6</tspan><tspan dy="1.3"> wt CD4</tspan><tspan font-size="2.6" dy="-1.3">+</tspan></text>
<line x1="422.4" y1="31.6" x2="431.1" y2="31.6" stroke="#333" stroke-width="0.6" />
<circle cx="426.75" cy="31.6" r="0.9" fill="#000"/>
<text x="433.6" y="33.292" font-size="4.7" textLength="28.1" lengthAdjust="spacingAndGlyphs" stroke="#000" stroke-width="0.25">3x10<tspan font-size="2.6" dy="-1.3">5</tspan><tspan dy="1.3"> wt CD4</tspan><tspan font-size="2.6" dy="-1.3">+</tspan></text>
<line x1="422.4" y1="38.6" x2="431.1" y2="38.6" stroke="#333" stroke-width="0.6" />
<path d="M425.75,37.9 H427.75 L426.75,39.6 Z" fill="#000"/>
<text x="433.6" y="40.292" font-size="4.7" textLength="35" lengthAdjust="spacingAndGlyphs" stroke="#000" stroke-width="0.25">10<tspan font-size="2.6" dy="-1.3">6</tspan><tspan dy="1.3"> Stat5 tg CD4</tspan><tspan font-size="2.6" dy="-1.3">+</tspan></text>
<line x1="422.4" y1="45.5" x2="431.1" y2="45.5" stroke="#333" stroke-width="0.6" />
<circle cx="426.75" cy="45.5" r="0.8" fill="#fff" stroke="#000" stroke-width="0.65"/>
<text x="433.6" y="47.192" font-size="4.7" textLength="40.6" lengthAdjust="spacingAndGlyphs" stroke="#000" stroke-width="0.25">3x10<tspan font-size="2.6" dy="-1.3">5</tspan><tspan dy="1.3"> Stat5 tg CD4</tspan><tspan font-size="2.6" dy="-1.3">+</tspan></text>
<line x1="430.6" y1="123.5" x2="439.2" y2="123.5" stroke="#333" stroke-width="0.6" />
<circle cx="434.9" cy="123.5" r="0.9" fill="#000"/>
<text x="441.8" y="125.372" font-size="5.2" textLength="19.5" lengthAdjust="spacingAndGlyphs" stroke="#000" stroke-width="0.15">BM only</text>
<line x1="430.6" y1="131.3" x2="439.2" y2="131.3" stroke="#333" stroke-width="0.6" />
<circle cx="434.9" cy="131.3" r="0.9" fill="#000"/>
<text x="441.8" y="133.17200000000003" font-size="5.2" textLength="40.7" lengthAdjust="spacingAndGlyphs" stroke="#000" stroke-width="0.15">CD4+CD25- Teff</text>
<line x1="430.6" y1="138.9" x2="439.2" y2="138.9" stroke="#333" stroke-width="0.6" />
<circle cx="434.9" cy="138.9" r="0.9" fill="#000"/>
<text x="441.8" y="140.772" font-size="5.2" textLength="66.2" lengthAdjust="spacingAndGlyphs" stroke="#000" stroke-width="0.15">CD4+CD25- Teff + wt Tregs</text>
<line x1="430.6" y1="146.5" x2="439.2" y2="146.5" stroke="#333" stroke-width="0.6" />
<circle cx="434.9" cy="146.5" r="0.8" fill="#fff" stroke="#000" stroke-width="0.65"/>
<text x="441.8" y="148.372" font-size="5.2" textLength="77.2" lengthAdjust="spacingAndGlyphs" stroke="#000" stroke-width="0.15">CD4+CD25- Teff + Stat5tg Tregs</text>
<line x1="422" y1="226.5" x2="431.5" y2="226.5" stroke="#333" stroke-width="0.6" />
<circle cx="426.75" cy="226.5" r="0.9" fill="#000"/>
<text x="433" y="228.3" font-size="5.0" textLength="18.7" lengthAdjust="spacingAndGlyphs" stroke="#000" stroke-width="0.15">BM only</text>
<line x1="422" y1="234.2" x2="431.5" y2="234.2" stroke="#333" stroke-width="0.6" />
<circle cx="426.75" cy="234.2" r="0.9" fill="#000"/>
<text x="433" y="236.0" font-size="5.0" textLength="15.5" lengthAdjust="spacingAndGlyphs" stroke="#000" stroke-width="0.15">wt Teff</text>
<line x1="422" y1="241.9" x2="431.5" y2="241.9" stroke="#333" stroke-width="0.6" />
<circle cx="426.75" cy="241.9" r="0.9" fill="#000"/>
<text x="433" y="243.70000000000002" font-size="5.0" textLength="57.8" lengthAdjust="spacingAndGlyphs" stroke="#000" stroke-width="0.15">wt Teff + wt Tregs 1:0.75</text>
<line x1="422" y1="250" x2="431.5" y2="250" stroke="#333" stroke-width="0.6" />
<circle cx="426.75" cy="250" r="0.8" fill="#fff" stroke="#000" stroke-width="0.65"/>
<text x="433" y="251.8" font-size="5.0" textLength="67.4" lengthAdjust="spacingAndGlyphs" stroke="#000" stroke-width="0.15">'wt Teff+Stat5tg Tregs 1:0.75</text>
<line x1="428.7" y1="330" x2="438.3" y2="330" stroke="#333" stroke-width="0.6" />
<circle cx="433.5" cy="330" r="0.9" fill="#000"/>
<text x="439.6" y="331.8" font-size="5.0" textLength="17.9" lengthAdjust="spacingAndGlyphs" stroke="#000" stroke-width="0.15">BMonly</text>
<line x1="428.7" y1="337.3" x2="438.3" y2="337.3" stroke="#333" stroke-width="0.6" />
<path d="M432.5,336.6 H434.5 L433.5,338.3 Z" fill="#000"/>
<text x="439.6" y="339.1" font-size="5.0" textLength="15" lengthAdjust="spacingAndGlyphs" stroke="#000" stroke-width="0.15">wt Teff</text>
<line x1="428.7" y1="344.6" x2="438.3" y2="344.6" stroke="#333" stroke-width="0.6" />
<circle cx="433.5" cy="344.6" r="0.8" fill="#fff" stroke="#000" stroke-width="0.65"/>
<text x="439.6" y="346.40000000000003" font-size="5.0" textLength="66.9" lengthAdjust="spacingAndGlyphs" stroke="#000" stroke-width="0.15">wt Teff+Stat5tg Tregs 1:0.25</text>
</g>
</svg>
</body></html>
